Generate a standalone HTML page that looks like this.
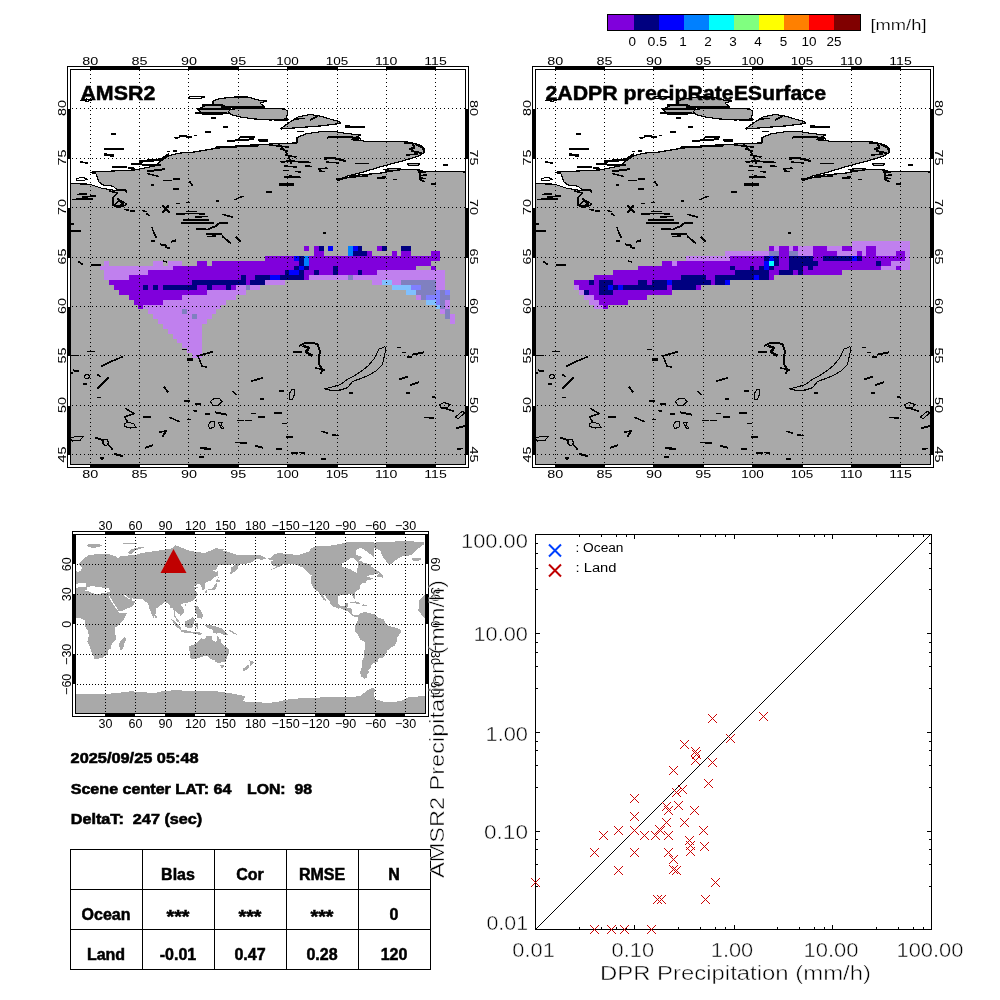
<!DOCTYPE html><html><head><meta charset="utf-8"><style>html,body{margin:0;padding:0;background:#fff;width:1000px;height:1000px;overflow:hidden}svg{display:block;will-change:transform}text{font-family:"Liberation Sans", sans-serif}</style></head><body>
<svg width="1000" height="1000" viewBox="0 0 1000 1000">
<rect width="1000" height="1000" fill="#fff"/>
<clipPath id="clip0"><rect x="71" y="70" width="394" height="394"/></clipPath>
<g clip-path="url(#clip0)">
<rect x="71" y="70" width="394" height="394" fill="#fff"/>
<g shape-rendering="crispEdges">
<polygon points="60,183.6 70,183.6 89.5,184.2 101.2,188.1 112.9,190.1 124.6,190.1 126.6,192 125.9,190.1 116.8,189.4 112.9,186.2 102.5,184.9 98.6,181.6 96,173.8 90.8,172.5 90.8,172.2 109,171.2 135,169.9 154.5,166 161,160.8 168.8,155.6 180.5,153 193,152.2 212.5,148.9 232,146.3 251.5,145 277.5,143.7 296.9,142.9 296.9,137.7 306,133.8 319,131.9 332,131.2 345,133.2 355.4,134.5 360.6,135.1 352.8,139 360.6,140.3 365.8,141.6 380,141.3 402.5,141.3 411.5,142.6 420.5,145.3 424.6,148.9 424.1,152.5 418.7,156.1 407,159.7 393.5,163.3 380,166.9 363.7,171.9 347.5,176 338,180.6 354.1,175.4 380,173.2 389,171.4 402.5,169.6 417.8,169.6 421,170.5 426,171.8 434,171.9 454.7,171.4 470,172.3 470,470 60,470" fill="#a9a9a9" stroke="#000" stroke-width="1.2" stroke-linejoin="round"/>
<polygon points="213,101 220,98.5 235,97 248,97 258,100 267,101 260,103 264,106.5 250,107 235,106.5 222,106.5 213,104" fill="#a9a9a9" stroke="#000" stroke-width="1.2" stroke-linejoin="round"/>
<polygon points="228,110 240,108 268,108.5 285,109 288,112 286,119 270,120 255,119 240,117 232,115 228,112" fill="#a9a9a9" stroke="#000" stroke-width="1.2" stroke-linejoin="round"/>
<polygon points="198,109 206,105.5 222,105 230,108.5 228,113.5 215,114.5 201,113" fill="#a9a9a9" stroke="#000" stroke-width="1.2" stroke-linejoin="round"/>
<polygon points="281,128.5 290,122 298,117 310,114.5 320,116 330,119 339,121.5 341,123 336,124 320,126 300,127.5 281,129" fill="#a9a9a9" stroke="#000" stroke-width="1.2" stroke-linejoin="round"/>
<polygon points="407,164 413,163.3 419.5,163.7 418,165.3 410,165.8" fill="#a9a9a9" stroke="#000" stroke-width="1.2" stroke-linejoin="round"/>
<polygon points="384,169.5 392,168.6 400,168.6 397,170.2 387,171" fill="#a9a9a9" stroke="#000" stroke-width="1.2" stroke-linejoin="round"/>
</g>
<g shape-rendering="crispEdges">
<rect x="304" y="246" width="5" height="5" fill="#8000dc"/>
<rect x="314" y="246" width="5" height="5" fill="#8000dc"/>
<rect x="319" y="246" width="5" height="5" fill="#000080"/>
<rect x="328" y="246" width="5" height="5" fill="#0000ff"/>
<rect x="348" y="246" width="5" height="5" fill="#0080ff"/>
<rect x="353" y="246" width="5" height="5" fill="#0000ff"/>
<rect x="358" y="246" width="4" height="5" fill="#000080"/>
<rect x="377" y="246" width="5" height="5" fill="#8000dc"/>
<rect x="382" y="246" width="5" height="5" fill="#000080"/>
<rect x="401" y="246" width="10" height="5" fill="#000080"/>
<rect x="314" y="251" width="10" height="5" fill="#8000dc"/>
<rect x="348" y="251" width="5" height="5" fill="#0080ff"/>
<rect x="353" y="251" width="14" height="5" fill="#000080"/>
<rect x="367" y="251" width="5" height="5" fill="#8000dc"/>
<rect x="392" y="251" width="5" height="5" fill="#8000dc"/>
<rect x="401" y="251" width="10" height="5" fill="#8000dc"/>
<rect x="431" y="251" width="9" height="5" fill="#8000dc"/>
<rect x="265" y="256" width="29" height="5" fill="#8000dc"/>
<rect x="294" y="256" width="5" height="5" fill="#0000ff"/>
<rect x="299" y="256" width="5" height="5" fill="#000080"/>
<rect x="304" y="256" width="5" height="5" fill="#0080ff"/>
<rect x="309" y="256" width="131" height="5" fill="#8000dc"/>
<rect x="104" y="261" width="5" height="5" fill="#c080ee"/>
<rect x="153" y="261" width="10" height="5" fill="#c080ee"/>
<rect x="168" y="261" width="14" height="5" fill="#c080ee"/>
<rect x="197" y="261" width="10" height="5" fill="#8000dc"/>
<rect x="212" y="261" width="87" height="5" fill="#8000dc"/>
<rect x="299" y="261" width="5" height="5" fill="#000080"/>
<rect x="304" y="261" width="5" height="5" fill="#0080ff"/>
<rect x="309" y="261" width="122" height="5" fill="#8000dc"/>
<rect x="100" y="266" width="73" height="4" fill="#c080ee"/>
<rect x="173" y="266" width="121" height="4" fill="#8000dc"/>
<rect x="294" y="266" width="5" height="4" fill="#000080"/>
<rect x="299" y="266" width="5" height="4" fill="#0000ff"/>
<rect x="304" y="266" width="5" height="4" fill="#000080"/>
<rect x="309" y="266" width="24" height="4" fill="#8000dc"/>
<rect x="333" y="266" width="5" height="4" fill="#000080"/>
<rect x="338" y="266" width="78" height="4" fill="#8000dc"/>
<rect x="431" y="266" width="5" height="4" fill="#8000dc"/>
<rect x="104" y="270" width="44" height="5" fill="#c080ee"/>
<rect x="148" y="270" width="137" height="5" fill="#8000dc"/>
<rect x="285" y="270" width="4" height="5" fill="#000080"/>
<rect x="289" y="270" width="10" height="5" fill="#0000ff"/>
<rect x="299" y="270" width="5" height="5" fill="#000080"/>
<rect x="304" y="270" width="10" height="5" fill="#8000dc"/>
<rect x="314" y="270" width="5" height="5" fill="#000080"/>
<rect x="319" y="270" width="14" height="5" fill="#8000dc"/>
<rect x="333" y="270" width="5" height="5" fill="#000080"/>
<rect x="338" y="270" width="20" height="5" fill="#8000dc"/>
<rect x="358" y="270" width="4" height="5" fill="#000080"/>
<rect x="362" y="270" width="15" height="5" fill="#8000dc"/>
<rect x="377" y="270" width="68" height="5" fill="#c080ee"/>
<rect x="104" y="275" width="25" height="5" fill="#c080ee"/>
<rect x="129" y="275" width="112" height="5" fill="#8000dc"/>
<rect x="241" y="275" width="5" height="5" fill="#000080"/>
<rect x="246" y="275" width="9" height="5" fill="#8000dc"/>
<rect x="255" y="275" width="15" height="5" fill="#000080"/>
<rect x="270" y="275" width="10" height="5" fill="#0000ff"/>
<rect x="280" y="275" width="24" height="5" fill="#000080"/>
<rect x="304" y="275" width="5" height="5" fill="#8000dc"/>
<rect x="309" y="275" width="39" height="5" fill="#c080ee"/>
<rect x="348" y="275" width="5" height="5" fill="#8080c0"/>
<rect x="353" y="275" width="92" height="5" fill="#c080ee"/>
<rect x="109" y="280" width="83" height="5" fill="#8000dc"/>
<rect x="192" y="280" width="54" height="5" fill="#000080"/>
<rect x="246" y="280" width="4" height="5" fill="#8000dc"/>
<rect x="250" y="280" width="15" height="5" fill="#000080"/>
<rect x="265" y="280" width="20" height="5" fill="#c080ee"/>
<rect x="372" y="280" width="10" height="5" fill="#c080ee"/>
<rect x="382" y="280" width="10" height="5" fill="#80c0ff"/>
<rect x="392" y="280" width="9" height="5" fill="#c080ee"/>
<rect x="401" y="280" width="35" height="5" fill="#8080c0"/>
<rect x="436" y="280" width="9" height="5" fill="#c080ee"/>
<rect x="114" y="285" width="29" height="5" fill="#8000dc"/>
<rect x="143" y="285" width="5" height="5" fill="#000080"/>
<rect x="148" y="285" width="5" height="5" fill="#8000dc"/>
<rect x="153" y="285" width="5" height="5" fill="#000080"/>
<rect x="158" y="285" width="5" height="5" fill="#8000dc"/>
<rect x="163" y="285" width="34" height="5" fill="#000080"/>
<rect x="197" y="285" width="10" height="5" fill="#8000dc"/>
<rect x="207" y="285" width="5" height="5" fill="#000080"/>
<rect x="212" y="285" width="14" height="5" fill="#8000dc"/>
<rect x="226" y="285" width="5" height="5" fill="#000080"/>
<rect x="231" y="285" width="5" height="5" fill="#8000dc"/>
<rect x="236" y="285" width="10" height="5" fill="#c080ee"/>
<rect x="246" y="285" width="4" height="5" fill="#8080c0"/>
<rect x="250" y="285" width="10" height="5" fill="#c080ee"/>
<rect x="392" y="285" width="19" height="5" fill="#80c0ff"/>
<rect x="411" y="285" width="10" height="5" fill="#8080ff"/>
<rect x="421" y="285" width="15" height="5" fill="#8080c0"/>
<rect x="436" y="285" width="9" height="5" fill="#c080ee"/>
<rect x="119" y="290" width="88" height="5" fill="#8000dc"/>
<rect x="207" y="290" width="39" height="5" fill="#c080ee"/>
<rect x="406" y="290" width="10" height="5" fill="#80c0ff"/>
<rect x="416" y="290" width="20" height="5" fill="#8080c0"/>
<rect x="436" y="290" width="4" height="5" fill="#8080ff"/>
<rect x="440" y="290" width="5" height="5" fill="#8080c0"/>
<rect x="445" y="290" width="5" height="5" fill="#8080ff"/>
<rect x="129" y="295" width="53" height="5" fill="#8000dc"/>
<rect x="182" y="295" width="54" height="5" fill="#c080ee"/>
<rect x="416" y="295" width="5" height="5" fill="#c080ee"/>
<rect x="421" y="295" width="5" height="5" fill="#8080c0"/>
<rect x="426" y="295" width="14" height="5" fill="#8080ff"/>
<rect x="440" y="295" width="10" height="5" fill="#8080c0"/>
<rect x="134" y="300" width="29" height="5" fill="#8000dc"/>
<rect x="163" y="300" width="63" height="5" fill="#c080ee"/>
<rect x="426" y="300" width="10" height="5" fill="#80c0ff"/>
<rect x="436" y="300" width="4" height="5" fill="#8080ff"/>
<rect x="440" y="300" width="5" height="5" fill="#8080c0"/>
<rect x="445" y="300" width="5" height="5" fill="#c080ee"/>
<rect x="138" y="305" width="5" height="4" fill="#8000dc"/>
<rect x="143" y="305" width="78" height="4" fill="#c080ee"/>
<rect x="436" y="305" width="4" height="4" fill="#80c0ff"/>
<rect x="440" y="305" width="5" height="4" fill="#8080c0"/>
<rect x="445" y="305" width="5" height="4" fill="#c080ee"/>
<rect x="148" y="309" width="34" height="5" fill="#c080ee"/>
<rect x="182" y="309" width="5" height="5" fill="#8080c0"/>
<rect x="187" y="309" width="29" height="5" fill="#c080ee"/>
<rect x="440" y="309" width="5" height="5" fill="#c080ee"/>
<rect x="445" y="309" width="5" height="5" fill="#8080c0"/>
<rect x="153" y="314" width="39" height="5" fill="#c080ee"/>
<rect x="192" y="314" width="5" height="5" fill="#8080c0"/>
<rect x="197" y="314" width="15" height="5" fill="#c080ee"/>
<rect x="445" y="314" width="5" height="5" fill="#8080c0"/>
<rect x="450" y="314" width="5" height="5" fill="#c080ee"/>
<rect x="158" y="319" width="49" height="5" fill="#c080ee"/>
<rect x="450" y="319" width="5" height="5" fill="#c080ee"/>
<rect x="163" y="324" width="39" height="5" fill="#c080ee"/>
<rect x="168" y="329" width="34" height="5" fill="#c080ee"/>
<rect x="173" y="334" width="29" height="5" fill="#c080ee"/>
<rect x="177" y="339" width="25" height="4" fill="#c080ee"/>
<rect x="182" y="343" width="20" height="5" fill="#c080ee"/>
<rect x="187" y="348" width="15" height="5" fill="#c080ee"/>
<rect x="192" y="353" width="10" height="5" fill="#c080ee"/>
</g>
<g shape-rendering="crispEdges">
<polygon points="188,97.2 196,96.4 204.5,97 200,98.4 190,98.4" fill="none" stroke="#000" stroke-width="1.1" stroke-linejoin="round"/>
<polygon points="324.8,388.8 332,387 340.4,384.6 347.6,379.2 354.8,375.6 362,370.8 368,366 374,358.8 378.8,349.2 384.8,346.8 386,348 384.8,354 382.4,364.8 376.4,370.8 368,375.6 362,378 352.4,381.6 347.6,387.6 340.4,390 332,390.6" fill="none" stroke="#000" stroke-width="1.1" stroke-linejoin="round"/>
<polygon points="76.5,179 80,177.7 85,178 87,179.5 83,180.5 77,180.3" fill="none" stroke="#000" stroke-width="1.1" stroke-linejoin="round"/>
<polygon points="289.5,393 292,389.5 295,390 293.5,398.5 290,400" fill="none" stroke="#000" stroke-width="1.1" stroke-linejoin="round"/>
<polygon points="455.5,417 462,411.5 465,412.5 458,419" fill="none" stroke="#000" stroke-width="1.1" stroke-linejoin="round"/>
<polygon points="210.5,401.5 214,398.5 219.5,398.4 222,401.5 218,405.5 212.5,405" fill="none" stroke="#000" stroke-width="1.1" stroke-linejoin="round"/>
<polygon points="80.5,100.5 86,99 93,99.5 88,101.2" fill="none" stroke="#000" stroke-width="1.1" stroke-linejoin="round"/>
<polygon points="84,376 87,374 90,376 88,379 85,378" fill="none" stroke="#000" stroke-width="1.1" stroke-linejoin="round"/>
<polygon points="70,438 76,436.5 83,436.5 80,440.5 72,441" fill="none" stroke="#000" stroke-width="1.1" stroke-linejoin="round"/>
<polygon points="103,440 107,439.5 109,443 106,446 103,444" fill="none" stroke="#000" stroke-width="1.1" stroke-linejoin="round"/>
<polygon points="100,458 102,457 104,458 102,459.3" fill="none" stroke="#000" stroke-width="1.1" stroke-linejoin="round"/>
<polygon points="208,425 211,421.5 215,422 214,427 210,428.5" fill="none" stroke="#000" stroke-width="1.1" stroke-linejoin="round"/>
<polygon points="218,422 222,422.5 221,425 224,428 222,429" fill="none" stroke="#000" stroke-width="1.1" stroke-linejoin="round"/>
<polygon points="124,424 128,422 134,424 136,427.5 130,428 125,426.5" fill="none" stroke="#000" stroke-width="1.1" stroke-linejoin="round"/>
<polygon points="439.5,405 444,402.5 450,404.5 447,408 441,408" fill="none" stroke="#000" stroke-width="1.1" stroke-linejoin="round"/>
<polygon points="114.5,204.5 120,200 127,204 122,207" fill="none" stroke="#000" stroke-width="1.1" stroke-linejoin="round"/>
<polyline points="203,105 222,105" fill="none" stroke="#000" stroke-width="2" stroke-linejoin="round" stroke-linecap="square"/>
<polyline points="198,109.2 230,109.2" fill="none" stroke="#000" stroke-width="2.2" stroke-linejoin="round" stroke-linecap="square"/>
<polyline points="196,112.5 226,112.5" fill="none" stroke="#000" stroke-width="2" stroke-linejoin="round" stroke-linecap="square"/>
<polyline points="203,114.7 217,114.7" fill="none" stroke="#000" stroke-width="1.4" stroke-linejoin="round" stroke-linecap="square"/>
<polyline points="222,106.6 264,106.6" fill="none" stroke="#000" stroke-width="1.8" stroke-linejoin="round" stroke-linecap="square"/>
<polyline points="240,108.2 268,108.5" fill="none" stroke="#000" stroke-width="1.5" stroke-linejoin="round" stroke-linecap="square"/>
<polyline points="211.5,118 215.5,118" fill="none" stroke="#000" stroke-width="1.3" stroke-linejoin="round" stroke-linecap="square"/>
<polyline points="224,127 227,127" fill="none" stroke="#000" stroke-width="1.6" stroke-linejoin="round" stroke-linecap="square"/>
<polyline points="295,119 304,118.5" fill="none" stroke="#000" stroke-width="1.5" stroke-linejoin="round" stroke-linecap="square"/>
<polyline points="311,119.5 317,116.5" fill="none" stroke="#000" stroke-width="1.8" stroke-linejoin="round" stroke-linecap="square"/>
<polyline points="111.6,133.7 115.5,133.7" fill="none" stroke="#000" stroke-width="1.6" stroke-linejoin="round" stroke-linecap="square"/>
<polyline points="105,149 122.7,149" fill="none" stroke="#000" stroke-width="1.8" stroke-linejoin="round" stroke-linecap="square"/>
<polyline points="105,154.5 112.5,155.5" fill="none" stroke="#000" stroke-width="2.6" stroke-linejoin="round" stroke-linecap="square"/>
<polyline points="175.3,138 179.2,137.5" fill="none" stroke="#000" stroke-width="1.6" stroke-linejoin="round" stroke-linecap="square"/>
<polyline points="180.5,136 185.7,135.8" fill="none" stroke="#000" stroke-width="1.8" stroke-linejoin="round" stroke-linecap="square"/>
<polyline points="187,137 191,137" fill="none" stroke="#000" stroke-width="1.4" stroke-linejoin="round" stroke-linecap="square"/>
<polyline points="195,135.3 196.8,135.3" fill="none" stroke="#000" stroke-width="1.3" stroke-linejoin="round" stroke-linecap="square"/>
<polyline points="167.5,151.6 168.8,151.6" fill="none" stroke="#000" stroke-width="1.4" stroke-linejoin="round" stroke-linecap="square"/>
<polyline points="174,150.9 176,150.9" fill="none" stroke="#000" stroke-width="1.4" stroke-linejoin="round" stroke-linecap="square"/>
<polyline points="81,162 87,163" fill="none" stroke="#000" stroke-width="1.6" stroke-linejoin="round" stroke-linecap="square"/>
<polyline points="113,167 126,167.3" fill="none" stroke="#000" stroke-width="1.8" stroke-linejoin="round" stroke-linecap="square"/>
<polyline points="128.5,168 133.7,167.8" fill="none" stroke="#000" stroke-width="1.6" stroke-linejoin="round" stroke-linecap="square"/>
<polyline points="206,132 210,132" fill="none" stroke="#000" stroke-width="1.4" stroke-linejoin="round" stroke-linecap="square"/>
<polyline points="180,136 185,136.5" fill="none" stroke="#000" stroke-width="1.5" stroke-linejoin="round" stroke-linecap="square"/>
<polyline points="298,131.5 303,131.5" fill="none" stroke="#000" stroke-width="1.4" stroke-linejoin="round" stroke-linecap="square"/>
<polyline points="346,126.5 364,127" fill="none" stroke="#000" stroke-width="2.2" stroke-linejoin="round" stroke-linecap="square"/>
<polyline points="228,141 252.8,139.2" fill="none" stroke="#000" stroke-width="2" stroke-linejoin="round" stroke-linecap="square"/>
<polyline points="240,137.5 254,137" fill="none" stroke="#000" stroke-width="2" stroke-linejoin="round" stroke-linecap="square"/>
<polyline points="259,140.3 267,140.5" fill="none" stroke="#000" stroke-width="2.4" stroke-linejoin="round" stroke-linecap="square"/>
<polyline points="216,147.5 258,145.5" fill="none" stroke="#000" stroke-width="2" stroke-linejoin="round" stroke-linecap="square"/>
<polyline points="328,137.5 345,136.5 360,138.5" fill="none" stroke="#000" stroke-width="2" stroke-linejoin="round" stroke-linecap="square"/>
<polyline points="352,139.5 360,140.5" fill="none" stroke="#000" stroke-width="1.8" stroke-linejoin="round" stroke-linecap="square"/>
<polyline points="140,161.5 161,159.5 168,155" fill="none" stroke="#000" stroke-width="2.6" stroke-linejoin="round" stroke-linecap="square"/>
<polyline points="132.4,164 159.7,165.4" fill="none" stroke="#000" stroke-width="2" stroke-linejoin="round" stroke-linecap="square"/>
<polyline points="148,171.2 163.6,169.3" fill="none" stroke="#000" stroke-width="2" stroke-linejoin="round" stroke-linecap="square"/>
<polyline points="148,173.8 158.4,176.4" fill="none" stroke="#000" stroke-width="1.5" stroke-linejoin="round" stroke-linecap="square"/>
<polyline points="110,191 117,193 113,198 113,205 118,207.5" fill="none" stroke="#000" stroke-width="1.6" stroke-linejoin="round" stroke-linecap="square"/>
<polyline points="118,199 123,204 119,207" fill="none" stroke="#000" stroke-width="2.4" stroke-linejoin="round" stroke-linecap="square"/>
<polyline points="78,194.5 86,194" fill="none" stroke="#000" stroke-width="1.8" stroke-linejoin="round" stroke-linecap="square"/>
<polyline points="83,197 95,196" fill="none" stroke="#000" stroke-width="1.8" stroke-linejoin="round" stroke-linecap="square"/>
<polyline points="73,199.5 92,199" fill="none" stroke="#000" stroke-width="1.8" stroke-linejoin="round" stroke-linecap="square"/>
<polyline points="174,179 179,179" fill="none" stroke="#000" stroke-width="1.4" stroke-linejoin="round" stroke-linecap="square"/>
<polyline points="190,182 192,185" fill="none" stroke="#000" stroke-width="1.4" stroke-linejoin="round" stroke-linecap="square"/>
<polyline points="174,189 178,189" fill="none" stroke="#000" stroke-width="2" stroke-linejoin="round" stroke-linecap="square"/>
<polyline points="151.3,185 153.2,185" fill="none" stroke="#000" stroke-width="1.3" stroke-linejoin="round" stroke-linecap="square"/>
<polyline points="163.6,180.3 171.4,180.3" fill="none" stroke="#000" stroke-width="1.2" stroke-linejoin="round" stroke-linecap="square"/>
<polyline points="178,203.7 179,203.7" fill="none" stroke="#000" stroke-width="1.5" stroke-linejoin="round" stroke-linecap="square"/>
<polyline points="187,202.4 189.6,202.4" fill="none" stroke="#000" stroke-width="1.5" stroke-linejoin="round" stroke-linecap="square"/>
<polyline points="163,206 169,212" fill="none" stroke="#000" stroke-width="2" stroke-linejoin="round" stroke-linecap="square"/>
<polyline points="168,206 163,212" fill="none" stroke="#000" stroke-width="2" stroke-linejoin="round" stroke-linecap="square"/>
<polyline points="124.6,209.5 128,210" fill="none" stroke="#000" stroke-width="1.6" stroke-linejoin="round" stroke-linecap="square"/>
<polyline points="131,211 133.7,211" fill="none" stroke="#000" stroke-width="1.6" stroke-linejoin="round" stroke-linecap="square"/>
<polyline points="142.8,210.5 146,211.5" fill="none" stroke="#000" stroke-width="1.6" stroke-linejoin="round" stroke-linecap="square"/>
<polyline points="147,214 149.3,215.4" fill="none" stroke="#000" stroke-width="1.6" stroke-linejoin="round" stroke-linecap="square"/>
<polyline points="70,230.8 80.4,230.8" fill="none" stroke="#000" stroke-width="1.6" stroke-linejoin="round" stroke-linecap="square"/>
<polyline points="70,224 72.6,224" fill="none" stroke="#000" stroke-width="2" stroke-linejoin="round" stroke-linecap="square"/>
<polyline points="152,227.5 153.5,232 156,237" fill="none" stroke="#000" stroke-width="1.5" stroke-linejoin="round" stroke-linecap="square"/>
<polyline points="152,240.7 154.5,240.7" fill="none" stroke="#000" stroke-width="1.8" stroke-linejoin="round" stroke-linecap="square"/>
<polyline points="161,244.5 166,245.5" fill="none" stroke="#000" stroke-width="1.8" stroke-linejoin="round" stroke-linecap="square"/>
<polyline points="166,247.5 168.8,248" fill="none" stroke="#000" stroke-width="1.8" stroke-linejoin="round" stroke-linecap="square"/>
<polyline points="172,241.5 175.3,240.5" fill="none" stroke="#000" stroke-width="1.8" stroke-linejoin="round" stroke-linecap="square"/>
<polyline points="79,262 82,264" fill="none" stroke="#000" stroke-width="1.6" stroke-linejoin="round" stroke-linecap="square"/>
<polyline points="92,265.3 100,265.3" fill="none" stroke="#000" stroke-width="1.8" stroke-linejoin="round" stroke-linecap="square"/>
<polyline points="163.6,261 166.2,262" fill="none" stroke="#000" stroke-width="1.4" stroke-linejoin="round" stroke-linecap="square"/>
<polyline points="279,145 284.5,150 288.5,156 291,163" fill="none" stroke="#000" stroke-width="1.5" stroke-linejoin="round" stroke-linecap="square"/>
<polyline points="281.4,162 290,161 310,162.5" fill="none" stroke="#000" stroke-width="1.8" stroke-linejoin="round" stroke-linecap="square"/>
<polyline points="285,166 296,167" fill="none" stroke="#000" stroke-width="1.6" stroke-linejoin="round" stroke-linecap="square"/>
<polyline points="270,145 288,147" fill="none" stroke="#000" stroke-width="1.6" stroke-linejoin="round" stroke-linecap="square"/>
<polyline points="281,149 287,151" fill="none" stroke="#000" stroke-width="1.6" stroke-linejoin="round" stroke-linecap="square"/>
<polyline points="286,155 295.6,157" fill="none" stroke="#000" stroke-width="1.6" stroke-linejoin="round" stroke-linecap="square"/>
<polyline points="325.5,158.5 334,158 345,161" fill="none" stroke="#000" stroke-width="2.2" stroke-linejoin="round" stroke-linecap="square"/>
<polyline points="327,162.2 338,162.8" fill="none" stroke="#000" stroke-width="1.6" stroke-linejoin="round" stroke-linecap="square"/>
<polyline points="355.4,163.5 368.4,163.7" fill="none" stroke="#000" stroke-width="1.6" stroke-linejoin="round" stroke-linecap="square"/>
<polyline points="319,169 326.8,168" fill="none" stroke="#000" stroke-width="1.5" stroke-linejoin="round" stroke-linecap="square"/>
<polyline points="306,166 311.2,166.5" fill="none" stroke="#000" stroke-width="1.8" stroke-linejoin="round" stroke-linecap="square"/>
<polyline points="284,170.2 288,170.2" fill="none" stroke="#000" stroke-width="1.4" stroke-linejoin="round" stroke-linecap="square"/>
<polyline points="285.2,176.7 299.5,176.7" fill="none" stroke="#000" stroke-width="1.6" stroke-linejoin="round" stroke-linecap="square"/>
<polyline points="280,184.5 293,184.5" fill="none" stroke="#000" stroke-width="2.2" stroke-linejoin="round" stroke-linecap="square"/>
<polyline points="267,192 271,192" fill="none" stroke="#000" stroke-width="1.5" stroke-linejoin="round" stroke-linecap="square"/>
<polyline points="290,176 300,177.5" fill="none" stroke="#000" stroke-width="1.6" stroke-linejoin="round" stroke-linecap="square"/>
<polyline points="296,171.5 300,172" fill="none" stroke="#000" stroke-width="1.6" stroke-linejoin="round" stroke-linecap="square"/>
<polyline points="320,171 324,171.5" fill="none" stroke="#000" stroke-width="1.6" stroke-linejoin="round" stroke-linecap="square"/>
<polyline points="377.5,178 384,178" fill="none" stroke="#000" stroke-width="1.6" stroke-linejoin="round" stroke-linecap="square"/>
<polyline points="394.4,179.3 395.5,179.3" fill="none" stroke="#000" stroke-width="1.5" stroke-linejoin="round" stroke-linecap="square"/>
<polyline points="380,177.5 382,177.5" fill="none" stroke="#000" stroke-width="2" stroke-linejoin="round" stroke-linecap="square"/>
<polyline points="393.5,179.7 395.3,179.7" fill="none" stroke="#000" stroke-width="1.5" stroke-linejoin="round" stroke-linecap="square"/>
<polyline points="405,142.5 413,143.5 414,148 410,149" fill="none" stroke="#000" stroke-width="2.2" stroke-linejoin="round" stroke-linecap="square"/>
<polyline points="416,144.5 423,148 424,151" fill="none" stroke="#000" stroke-width="2.2" stroke-linejoin="round" stroke-linecap="square"/>
<polyline points="412,151 421,153" fill="none" stroke="#000" stroke-width="2" stroke-linejoin="round" stroke-linecap="square"/>
<polyline points="407,155 417,154" fill="none" stroke="#000" stroke-width="1.6" stroke-linejoin="round" stroke-linecap="square"/>
<polyline points="444,165 447.5,165" fill="none" stroke="#000" stroke-width="1.6" stroke-linejoin="round" stroke-linecap="square"/>
<polyline points="432.2,184 435,184" fill="none" stroke="#000" stroke-width="1.5" stroke-linejoin="round" stroke-linecap="square"/>
<polyline points="417,169.5 420,173 419.5,179 424,181.5" fill="none" stroke="#000" stroke-width="1.8" stroke-linejoin="round" stroke-linecap="square"/>
<polyline points="421,175.5 426,175" fill="none" stroke="#000" stroke-width="1.6" stroke-linejoin="round" stroke-linecap="square"/>
<polyline points="420,172 425,172.5" fill="none" stroke="#000" stroke-width="1.5" stroke-linejoin="round" stroke-linecap="square"/>
<polyline points="421,178 425,178.5" fill="none" stroke="#000" stroke-width="1.6" stroke-linejoin="round" stroke-linecap="square"/>
<polyline points="324,233 325,233" fill="none" stroke="#000" stroke-width="1.8" stroke-linejoin="round" stroke-linecap="square"/>
<polyline points="337,179 352,177 367,176" fill="none" stroke="#000" stroke-width="1.6" stroke-linejoin="round" stroke-linecap="square"/>
<polyline points="379,177.5 385,177" fill="none" stroke="#000" stroke-width="1.5" stroke-linejoin="round" stroke-linecap="square"/>
<polyline points="394,179.5 396,179.5" fill="none" stroke="#000" stroke-width="1.6" stroke-linejoin="round" stroke-linecap="square"/>
<polyline points="176.5,214 190,213.5 203.8,213.8" fill="none" stroke="#000" stroke-width="1.6" stroke-linejoin="round" stroke-linecap="square"/>
<polyline points="187,211.5 196,211.5" fill="none" stroke="#000" stroke-width="1.4" stroke-linejoin="round" stroke-linecap="square"/>
<polyline points="184.3,219.7 207.7,219.7" fill="none" stroke="#000" stroke-width="2" stroke-linejoin="round" stroke-linecap="square"/>
<polyline points="196,217 207.7,216.5" fill="none" stroke="#000" stroke-width="1.5" stroke-linejoin="round" stroke-linecap="square"/>
<polyline points="181.7,223.3 212.9,222.8" fill="none" stroke="#000" stroke-width="2" stroke-linejoin="round" stroke-linecap="square"/>
<polyline points="197.3,228.8 207.7,229.5 215.5,226.2 219.4,223 226.6,223" fill="none" stroke="#000" stroke-width="1.8" stroke-linejoin="round" stroke-linecap="square"/>
<polyline points="206.4,234 220.7,234" fill="none" stroke="#000" stroke-width="1.8" stroke-linejoin="round" stroke-linecap="square"/>
<polyline points="207.7,236.6 215.5,236" fill="none" stroke="#000" stroke-width="1.6" stroke-linejoin="round" stroke-linecap="square"/>
<polyline points="223.3,214.5 232.4,217.1" fill="none" stroke="#000" stroke-width="1.6" stroke-linejoin="round" stroke-linecap="square"/>
<polyline points="222.7,236.6 230.5,243.1" fill="none" stroke="#000" stroke-width="1.8" stroke-linejoin="round" stroke-linecap="square"/>
<polyline points="236.3,237.3 240.2,241.2" fill="none" stroke="#000" stroke-width="1.8" stroke-linejoin="round" stroke-linecap="square"/>
<polyline points="172.6,240.8 175.2,241" fill="none" stroke="#000" stroke-width="2" stroke-linejoin="round" stroke-linecap="square"/>
<polyline points="177.2,203.5 178,203.5" fill="none" stroke="#000" stroke-width="1.6" stroke-linejoin="round" stroke-linecap="square"/>
<polyline points="188.9,202.2 189.5,202.5" fill="none" stroke="#000" stroke-width="1.5" stroke-linejoin="round" stroke-linecap="square"/>
<polyline points="216.8,200.9 218.5,200.9" fill="none" stroke="#000" stroke-width="1.4" stroke-linejoin="round" stroke-linecap="square"/>
<polyline points="235,199.6 242.8,196.3" fill="none" stroke="#000" stroke-width="1.5" stroke-linejoin="round" stroke-linecap="square"/>
<polyline points="299.6,345.6 304.4,343.2 312.8,342.6 317.6,344.4 320,351.6 318.8,357.6 318.8,363.6 322.4,369.6 321.2,373.2" fill="none" stroke="#000" stroke-width="1.8" stroke-linejoin="round" stroke-linecap="square"/>
<polyline points="304,346 309,348 306,352 311,355" fill="none" stroke="#000" stroke-width="2.6" stroke-linejoin="round" stroke-linecap="square"/>
<polyline points="294.2,352.2 301.4,352.2" fill="none" stroke="#000" stroke-width="1.6" stroke-linejoin="round" stroke-linecap="square"/>
<polyline points="316,368 324,370" fill="none" stroke="#000" stroke-width="1.5" stroke-linejoin="round" stroke-linecap="square"/>
<polyline points="280,391 283,391" fill="none" stroke="#000" stroke-width="1.4" stroke-linejoin="round" stroke-linecap="square"/>
<polyline points="275,413 281,413" fill="none" stroke="#000" stroke-width="1.6" stroke-linejoin="round" stroke-linecap="square"/>
<polyline points="283,423.5 286,423.5" fill="none" stroke="#000" stroke-width="1.4" stroke-linejoin="round" stroke-linecap="square"/>
<polyline points="287,437 292,437" fill="none" stroke="#000" stroke-width="1.8" stroke-linejoin="round" stroke-linecap="square"/>
<polyline points="277,449 281,449" fill="none" stroke="#000" stroke-width="1.8" stroke-linejoin="round" stroke-linecap="square"/>
<polyline points="292,453 297,453" fill="none" stroke="#000" stroke-width="1.8" stroke-linejoin="round" stroke-linecap="square"/>
<polyline points="300,452.5 304,453" fill="none" stroke="#000" stroke-width="1.8" stroke-linejoin="round" stroke-linecap="square"/>
<polyline points="322,431.5 327,433" fill="none" stroke="#000" stroke-width="1.6" stroke-linejoin="round" stroke-linecap="square"/>
<polyline points="333,435 338,435.5" fill="none" stroke="#000" stroke-width="1.6" stroke-linejoin="round" stroke-linecap="square"/>
<polyline points="322,459 325,459" fill="none" stroke="#000" stroke-width="1.6" stroke-linejoin="round" stroke-linecap="square"/>
<polyline points="349.5,393 351.5,393" fill="none" stroke="#000" stroke-width="2" stroke-linejoin="round" stroke-linecap="square"/>
<polyline points="398,347.5 400,347.5" fill="none" stroke="#000" stroke-width="1.4" stroke-linejoin="round" stroke-linecap="square"/>
<polyline points="403,352.5 405,352.5" fill="none" stroke="#000" stroke-width="1.5" stroke-linejoin="round" stroke-linecap="square"/>
<polyline points="408,357 411,357" fill="none" stroke="#000" stroke-width="1.5" stroke-linejoin="round" stroke-linecap="square"/>
<polyline points="413,354.5 423,352.5" fill="none" stroke="#000" stroke-width="1.8" stroke-linejoin="round" stroke-linecap="square"/>
<polyline points="400,379 407,377" fill="none" stroke="#000" stroke-width="2" stroke-linejoin="round" stroke-linecap="square"/>
<polyline points="411,385 418,382.5" fill="none" stroke="#000" stroke-width="1.8" stroke-linejoin="round" stroke-linecap="square"/>
<polyline points="407,393 409,393" fill="none" stroke="#000" stroke-width="1.5" stroke-linejoin="round" stroke-linecap="square"/>
<polyline points="433,397 435,397.5" fill="none" stroke="#000" stroke-width="1.8" stroke-linejoin="round" stroke-linecap="square"/>
<polyline points="447,409 453,411" fill="none" stroke="#000" stroke-width="1.5" stroke-linejoin="round" stroke-linecap="square"/>
<polyline points="425,417.5 433,418" fill="none" stroke="#000" stroke-width="1.5" stroke-linejoin="round" stroke-linecap="square"/>
<polyline points="457,428 465,426" fill="none" stroke="#000" stroke-width="2" stroke-linejoin="round" stroke-linecap="square"/>
<polyline points="458,449 462,448.5" fill="none" stroke="#000" stroke-width="1.8" stroke-linejoin="round" stroke-linecap="square"/>
<polyline points="88,351.5 94,351.5" fill="none" stroke="#000" stroke-width="1.8" stroke-linejoin="round" stroke-linecap="square"/>
<polyline points="70,355.5 78,355.5" fill="none" stroke="#000" stroke-width="1.8" stroke-linejoin="round" stroke-linecap="square"/>
<polyline points="102,366 110,362 122,357" fill="none" stroke="#000" stroke-width="1.6" stroke-linejoin="round" stroke-linecap="square"/>
<polyline points="74,370.5 78,371" fill="none" stroke="#000" stroke-width="2" stroke-linejoin="round" stroke-linecap="square"/>
<polyline points="98,375 100,376.5" fill="none" stroke="#000" stroke-width="1.6" stroke-linejoin="round" stroke-linecap="square"/>
<polyline points="98,388 103,383" fill="none" stroke="#000" stroke-width="1.6" stroke-linejoin="round" stroke-linecap="square"/>
<polyline points="103,383 108,378" fill="none" stroke="#000" stroke-width="1.8" stroke-linejoin="round" stroke-linecap="square"/>
<polyline points="84,384 86,384" fill="none" stroke="#000" stroke-width="1.5" stroke-linejoin="round" stroke-linecap="square"/>
<polyline points="98,397.5 100,397.5" fill="none" stroke="#000" stroke-width="1.5" stroke-linejoin="round" stroke-linecap="square"/>
<polyline points="70,373 72,373" fill="none" stroke="#000" stroke-width="1.4" stroke-linejoin="round" stroke-linecap="square"/>
<polyline points="198,356 205,354 212,352" fill="none" stroke="#000" stroke-width="1.8" stroke-linejoin="round" stroke-linecap="square"/>
<polyline points="198,356 202,366 206,367" fill="none" stroke="#000" stroke-width="1.6" stroke-linejoin="round" stroke-linecap="square"/>
<polyline points="188.5,359.5 191.5,359.5" fill="none" stroke="#000" stroke-width="2.2" stroke-linejoin="round" stroke-linecap="square"/>
<polyline points="183,349.5 186,349.5" fill="none" stroke="#000" stroke-width="1.4" stroke-linejoin="round" stroke-linecap="square"/>
<polyline points="164.5,387.5 167.5,391.5" fill="none" stroke="#000" stroke-width="1.8" stroke-linejoin="round" stroke-linecap="square"/>
<polyline points="185,401 189,401" fill="none" stroke="#000" stroke-width="1.6" stroke-linejoin="round" stroke-linecap="square"/>
<polyline points="196,404 200,404" fill="none" stroke="#000" stroke-width="1.6" stroke-linejoin="round" stroke-linecap="square"/>
<polyline points="193.5,410.5 196,411" fill="none" stroke="#000" stroke-width="1.6" stroke-linejoin="round" stroke-linecap="square"/>
<polyline points="206,414 209,414" fill="none" stroke="#000" stroke-width="1.6" stroke-linejoin="round" stroke-linecap="square"/>
<polyline points="216,412.5 226,414.5" fill="none" stroke="#000" stroke-width="2" stroke-linejoin="round" stroke-linecap="square"/>
<polyline points="126,408.8 134,413.6 124.4,416.8 127.6,422" fill="none" stroke="#000" stroke-width="1.5" stroke-linejoin="round" stroke-linecap="square"/>
<polyline points="144,417 150,417" fill="none" stroke="#000" stroke-width="2.2" stroke-linejoin="round" stroke-linecap="square"/>
<polyline points="170,417.5 179,421.5" fill="none" stroke="#000" stroke-width="1.6" stroke-linejoin="round" stroke-linecap="square"/>
<polyline points="188,419.5 190,419.5" fill="none" stroke="#000" stroke-width="1.5" stroke-linejoin="round" stroke-linecap="square"/>
<polyline points="160,432 166,431 163,436" fill="none" stroke="#000" stroke-width="1.8" stroke-linejoin="round" stroke-linecap="square"/>
<polyline points="96,438 103,440" fill="none" stroke="#000" stroke-width="1.8" stroke-linejoin="round" stroke-linecap="square"/>
<polyline points="108,444 112,449" fill="none" stroke="#000" stroke-width="1.5" stroke-linejoin="round" stroke-linecap="square"/>
<polyline points="115,454 122,456" fill="none" stroke="#000" stroke-width="2.2" stroke-linejoin="round" stroke-linecap="square"/>
<polyline points="146,447.5 152,445.5" fill="none" stroke="#000" stroke-width="1.8" stroke-linejoin="round" stroke-linecap="square"/>
<polyline points="201,448 210,449" fill="none" stroke="#000" stroke-width="2.4" stroke-linejoin="round" stroke-linecap="square"/>
<polyline points="200,457 203,457" fill="none" stroke="#000" stroke-width="1.6" stroke-linejoin="round" stroke-linecap="square"/>
<polyline points="236,442.5 246,443" fill="none" stroke="#000" stroke-width="1.6" stroke-linejoin="round" stroke-linecap="square"/>
<polyline points="256,446 262,447.5" fill="none" stroke="#000" stroke-width="1.8" stroke-linejoin="round" stroke-linecap="square"/>
<polyline points="252,381 262,378" fill="none" stroke="#000" stroke-width="1.8" stroke-linejoin="round" stroke-linecap="square"/>
<polyline points="233,391.5 236,394.5" fill="none" stroke="#000" stroke-width="1.5" stroke-linejoin="round" stroke-linecap="square"/>
<polyline points="261,399 263,399" fill="none" stroke="#000" stroke-width="1.5" stroke-linejoin="round" stroke-linecap="square"/>
<polyline points="252,413.5 255,413.5" fill="none" stroke="#000" stroke-width="1.5" stroke-linejoin="round" stroke-linecap="square"/>
<polyline points="259,417 264,417" fill="none" stroke="#000" stroke-width="2" stroke-linejoin="round" stroke-linecap="square"/>
<polyline points="238,420.5 243,420.5" fill="none" stroke="#000" stroke-width="1.3" stroke-linejoin="round" stroke-linecap="square"/>
<polyline points="246,420.5 251,420.5" fill="none" stroke="#000" stroke-width="1.3" stroke-linejoin="round" stroke-linecap="square"/>
<polygon points="272,119 290,118.6 288,121 276,121.5" fill="#000"/>
</g>
<g stroke="#000" stroke-width="1" stroke-dasharray="1 3" shape-rendering="crispEdges">
<line x1="90.5" y1="70" x2="90.5" y2="464"/>
<line x1="139.5" y1="70" x2="139.5" y2="464"/>
<line x1="188.5" y1="70" x2="188.5" y2="464"/>
<line x1="238.5" y1="70" x2="238.5" y2="464"/>
<line x1="287.5" y1="70" x2="287.5" y2="464"/>
<line x1="337.5" y1="70" x2="337.5" y2="464"/>
<line x1="386.5" y1="70" x2="386.5" y2="464"/>
<line x1="435.5" y1="70" x2="435.5" y2="464"/>
<line x1="72" y1="454.5" x2="465" y2="454.5"/>
<line x1="72" y1="405.5" x2="465" y2="405.5"/>
<line x1="72" y1="355.5" x2="465" y2="355.5"/>
<line x1="72" y1="306.5" x2="465" y2="306.5"/>
<line x1="72" y1="257.5" x2="465" y2="257.5"/>
<line x1="72" y1="207.5" x2="465" y2="207.5"/>
<line x1="72" y1="158.5" x2="465" y2="158.5"/>
<line x1="72" y1="108.5" x2="465" y2="108.5"/>
</g>
</g>
<g shape-rendering="crispEdges">
<rect x="67.5" y="66.5" width="401" height="401" fill="none" stroke="#000" stroke-width="1"/>
<rect x="70.5" y="69.5" width="395" height="395" fill="none" stroke="#000" stroke-width="1"/>
<rect x="90" y="67" width="50" height="2" fill="#000"/>
<rect x="90" y="465" width="50" height="2" fill="#000"/>
<rect x="188" y="67" width="51" height="2" fill="#000"/>
<rect x="188" y="465" width="51" height="2" fill="#000"/>
<rect x="287" y="67" width="51" height="2" fill="#000"/>
<rect x="287" y="465" width="51" height="2" fill="#000"/>
<rect x="386" y="67" width="50" height="2" fill="#000"/>
<rect x="386" y="465" width="50" height="2" fill="#000"/>
<rect x="68" y="109" width="2" height="50" fill="#000"/>
<rect x="466" y="109" width="2" height="50" fill="#000"/>
<rect x="68" y="208" width="2" height="50" fill="#000"/>
<rect x="466" y="208" width="2" height="50" fill="#000"/>
<rect x="68" y="307" width="2" height="49" fill="#000"/>
<rect x="466" y="307" width="2" height="49" fill="#000"/>
<rect x="68" y="406" width="2" height="49" fill="#000"/>
<rect x="466" y="406" width="2" height="49" fill="#000"/>
</g>
<g font-size="11.5" fill="#000" text-anchor="middle">
<text x="90.2" y="64.6" textLength="16" lengthAdjust="spacingAndGlyphs">80</text>
<text x="90.2" y="477.8" textLength="16" lengthAdjust="spacingAndGlyphs">80</text>
<text x="139.6" y="64.6" textLength="16" lengthAdjust="spacingAndGlyphs">85</text>
<text x="139.6" y="477.8" textLength="16" lengthAdjust="spacingAndGlyphs">85</text>
<text x="188.9" y="64.6" textLength="16" lengthAdjust="spacingAndGlyphs">90</text>
<text x="188.9" y="477.8" textLength="16" lengthAdjust="spacingAndGlyphs">90</text>
<text x="238.2" y="64.6" textLength="16" lengthAdjust="spacingAndGlyphs">95</text>
<text x="238.2" y="477.8" textLength="16" lengthAdjust="spacingAndGlyphs">95</text>
<text x="287.6" y="64.6" textLength="22.5" lengthAdjust="spacingAndGlyphs">100</text>
<text x="287.6" y="477.8" textLength="22.5" lengthAdjust="spacingAndGlyphs">100</text>
<text x="336.9" y="64.6" textLength="22.5" lengthAdjust="spacingAndGlyphs">105</text>
<text x="336.9" y="477.8" textLength="22.5" lengthAdjust="spacingAndGlyphs">105</text>
<text x="386.2" y="64.6" textLength="22.5" lengthAdjust="spacingAndGlyphs">110</text>
<text x="386.2" y="477.8" textLength="22.5" lengthAdjust="spacingAndGlyphs">110</text>
<text x="435.5" y="64.6" textLength="22.5" lengthAdjust="spacingAndGlyphs">115</text>
<text x="435.5" y="477.8" textLength="22.5" lengthAdjust="spacingAndGlyphs">115</text>
<text transform="translate(66,454.6) rotate(-90)" textLength="16" lengthAdjust="spacingAndGlyphs">45</text>
<text transform="translate(470,454.6) rotate(90)" textLength="16" lengthAdjust="spacingAndGlyphs">45</text>
<text transform="translate(66,405.1) rotate(-90)" textLength="16" lengthAdjust="spacingAndGlyphs">50</text>
<text transform="translate(470,405.1) rotate(90)" textLength="16" lengthAdjust="spacingAndGlyphs">50</text>
<text transform="translate(66,355.6) rotate(-90)" textLength="16" lengthAdjust="spacingAndGlyphs">55</text>
<text transform="translate(470,355.6) rotate(90)" textLength="16" lengthAdjust="spacingAndGlyphs">55</text>
<text transform="translate(66,306.1) rotate(-90)" textLength="16" lengthAdjust="spacingAndGlyphs">60</text>
<text transform="translate(470,306.1) rotate(90)" textLength="16" lengthAdjust="spacingAndGlyphs">60</text>
<text transform="translate(66,256.6) rotate(-90)" textLength="16" lengthAdjust="spacingAndGlyphs">65</text>
<text transform="translate(470,256.6) rotate(90)" textLength="16" lengthAdjust="spacingAndGlyphs">65</text>
<text transform="translate(66,207.1) rotate(-90)" textLength="16" lengthAdjust="spacingAndGlyphs">70</text>
<text transform="translate(470,207.1) rotate(90)" textLength="16" lengthAdjust="spacingAndGlyphs">70</text>
<text transform="translate(66,157.6) rotate(-90)" textLength="16" lengthAdjust="spacingAndGlyphs">75</text>
<text transform="translate(470,157.6) rotate(90)" textLength="16" lengthAdjust="spacingAndGlyphs">75</text>
<text transform="translate(66,108.1) rotate(-90)" textLength="16" lengthAdjust="spacingAndGlyphs">80</text>
<text transform="translate(470,108.1) rotate(90)" textLength="16" lengthAdjust="spacingAndGlyphs">80</text>
</g>
<text x="80.4" y="100" font-size="20.5" font-weight="bold" fill="#000" stroke="#000" stroke-width="0.5" textLength="75" lengthAdjust="spacingAndGlyphs">AMSR2</text>
<clipPath id="clip465"><rect x="536" y="70" width="394" height="394"/></clipPath>
<g clip-path="url(#clip465)">
<rect x="536" y="70" width="394" height="394" fill="#fff"/>
<g shape-rendering="crispEdges">
<polygon points="525,183.6 535,183.6 554.5,184.2 566.2,188.1 577.9,190.1 589.6,190.1 591.6,192 590.9,190.1 581.8,189.4 577.9,186.2 567.5,184.9 563.6,181.6 561,173.8 555.8,172.5 555.8,172.2 574,171.2 600,169.9 619.5,166 626,160.8 633.8,155.6 645.5,153 658,152.2 677.5,148.9 697,146.3 716.5,145 742.5,143.7 761.9,142.9 761.9,137.7 771,133.8 784,131.9 797,131.2 810,133.2 820.4,134.5 825.6,135.1 817.8,139 825.6,140.3 830.8,141.6 845,141.3 867.5,141.3 876.5,142.6 885.5,145.3 889.6,148.9 889.1,152.5 883.7,156.1 872,159.7 858.5,163.3 845,166.9 828.7,171.9 812.5,176 803,180.6 819.1,175.4 845,173.2 854,171.4 867.5,169.6 882.8,169.6 886,170.5 891,171.8 899,171.9 919.7,171.4 935,172.3 935,470 525,470" fill="#a9a9a9" stroke="#000" stroke-width="1.2" stroke-linejoin="round"/>
<polygon points="678,101 685,98.5 700,97 713,97 723,100 732,101 725,103 729,106.5 715,107 700,106.5 687,106.5 678,104" fill="#a9a9a9" stroke="#000" stroke-width="1.2" stroke-linejoin="round"/>
<polygon points="693,110 705,108 733,108.5 750,109 753,112 751,119 735,120 720,119 705,117 697,115 693,112" fill="#a9a9a9" stroke="#000" stroke-width="1.2" stroke-linejoin="round"/>
<polygon points="663,109 671,105.5 687,105 695,108.5 693,113.5 680,114.5 666,113" fill="#a9a9a9" stroke="#000" stroke-width="1.2" stroke-linejoin="round"/>
<polygon points="746,128.5 755,122 763,117 775,114.5 785,116 795,119 804,121.5 806,123 801,124 785,126 765,127.5 746,129" fill="#a9a9a9" stroke="#000" stroke-width="1.2" stroke-linejoin="round"/>
<polygon points="872,164 878,163.3 884.5,163.7 883,165.3 875,165.8" fill="#a9a9a9" stroke="#000" stroke-width="1.2" stroke-linejoin="round"/>
<polygon points="849,169.5 857,168.6 865,168.6 862,170.2 852,171" fill="#a9a9a9" stroke="#000" stroke-width="1.2" stroke-linejoin="round"/>
</g>
<g shape-rendering="crispEdges">
<rect x="852" y="241" width="58" height="5" fill="#c080ee"/>
<rect x="769" y="246" width="5" height="5" fill="#8000dc"/>
<rect x="774" y="246" width="5" height="5" fill="#c080ee"/>
<rect x="779" y="246" width="10" height="5" fill="#8000dc"/>
<rect x="789" y="246" width="4" height="5" fill="#c080ee"/>
<rect x="793" y="246" width="5" height="5" fill="#8000dc"/>
<rect x="798" y="246" width="15" height="5" fill="#c080ee"/>
<rect x="813" y="246" width="14" height="5" fill="#8000dc"/>
<rect x="827" y="246" width="15" height="5" fill="#c080ee"/>
<rect x="842" y="246" width="10" height="5" fill="#8000dc"/>
<rect x="852" y="246" width="14" height="5" fill="#c080ee"/>
<rect x="866" y="246" width="10" height="5" fill="#8000dc"/>
<rect x="876" y="246" width="34" height="5" fill="#c080ee"/>
<rect x="725" y="251" width="44" height="5" fill="#c080ee"/>
<rect x="769" y="251" width="10" height="5" fill="#8080c0"/>
<rect x="779" y="251" width="10" height="5" fill="#8000dc"/>
<rect x="789" y="251" width="9" height="5" fill="#8080c0"/>
<rect x="798" y="251" width="15" height="5" fill="#c080ee"/>
<rect x="813" y="251" width="24" height="5" fill="#8000dc"/>
<rect x="837" y="251" width="20" height="5" fill="#c080ee"/>
<rect x="857" y="251" width="5" height="5" fill="#8000dc"/>
<rect x="862" y="251" width="4" height="5" fill="#c080ee"/>
<rect x="866" y="251" width="10" height="5" fill="#8000dc"/>
<rect x="876" y="251" width="20" height="5" fill="#c080ee"/>
<rect x="896" y="251" width="9" height="5" fill="#8000dc"/>
<rect x="905" y="251" width="5" height="5" fill="#c080ee"/>
<rect x="686" y="256" width="44" height="5" fill="#c080ee"/>
<rect x="730" y="256" width="34" height="5" fill="#8000dc"/>
<rect x="764" y="256" width="5" height="5" fill="#000080"/>
<rect x="769" y="256" width="5" height="5" fill="#0000ff"/>
<rect x="774" y="256" width="5" height="5" fill="#000080"/>
<rect x="779" y="256" width="10" height="5" fill="#8000dc"/>
<rect x="789" y="256" width="24" height="5" fill="#000080"/>
<rect x="813" y="256" width="10" height="5" fill="#8000dc"/>
<rect x="823" y="256" width="29" height="5" fill="#000080"/>
<rect x="852" y="256" width="5" height="5" fill="#0000ff"/>
<rect x="857" y="256" width="5" height="5" fill="#000080"/>
<rect x="862" y="256" width="43" height="5" fill="#8000dc"/>
<rect x="905" y="256" width="5" height="5" fill="#c080ee"/>
<rect x="662" y="261" width="10" height="5" fill="#8000dc"/>
<rect x="672" y="261" width="5" height="5" fill="#c080ee"/>
<rect x="677" y="261" width="87" height="5" fill="#8000dc"/>
<rect x="764" y="261" width="5" height="5" fill="#0000ff"/>
<rect x="769" y="261" width="5" height="5" fill="#00ffff"/>
<rect x="774" y="261" width="5" height="5" fill="#000080"/>
<rect x="779" y="261" width="10" height="5" fill="#8000dc"/>
<rect x="789" y="261" width="29" height="5" fill="#000080"/>
<rect x="818" y="261" width="58" height="5" fill="#8000dc"/>
<rect x="876" y="261" width="5" height="5" fill="#000080"/>
<rect x="881" y="261" width="10" height="5" fill="#8000dc"/>
<rect x="891" y="261" width="19" height="5" fill="#c080ee"/>
<rect x="638" y="266" width="92" height="4" fill="#8000dc"/>
<rect x="730" y="266" width="5" height="4" fill="#000080"/>
<rect x="735" y="266" width="15" height="4" fill="#8000dc"/>
<rect x="750" y="266" width="4" height="4" fill="#000080"/>
<rect x="754" y="266" width="5" height="4" fill="#8000dc"/>
<rect x="759" y="266" width="5" height="4" fill="#000080"/>
<rect x="764" y="266" width="5" height="4" fill="#0000ff"/>
<rect x="769" y="266" width="5" height="4" fill="#000080"/>
<rect x="774" y="266" width="15" height="4" fill="#8000dc"/>
<rect x="789" y="266" width="14" height="4" fill="#000080"/>
<rect x="803" y="266" width="5" height="4" fill="#8000dc"/>
<rect x="808" y="266" width="5" height="4" fill="#000080"/>
<rect x="813" y="266" width="68" height="4" fill="#8000dc"/>
<rect x="881" y="266" width="15" height="4" fill="#c080ee"/>
<rect x="896" y="266" width="5" height="4" fill="#8000dc"/>
<rect x="901" y="266" width="9" height="4" fill="#c080ee"/>
<rect x="613" y="270" width="122" height="5" fill="#8000dc"/>
<rect x="735" y="270" width="34" height="5" fill="#000080"/>
<rect x="769" y="270" width="10" height="5" fill="#8000dc"/>
<rect x="779" y="270" width="14" height="5" fill="#000080"/>
<rect x="793" y="270" width="5" height="5" fill="#8000dc"/>
<rect x="798" y="270" width="5" height="5" fill="#000080"/>
<rect x="803" y="270" width="39" height="5" fill="#8000dc"/>
<rect x="594" y="275" width="87" height="5" fill="#8000dc"/>
<rect x="681" y="275" width="25" height="5" fill="#000080"/>
<rect x="706" y="275" width="9" height="5" fill="#8000dc"/>
<rect x="715" y="275" width="39" height="5" fill="#000080"/>
<rect x="754" y="275" width="5" height="5" fill="#0000ff"/>
<rect x="759" y="275" width="10" height="5" fill="#000080"/>
<rect x="769" y="275" width="5" height="5" fill="#8000dc"/>
<rect x="574" y="280" width="15" height="5" fill="#8000dc"/>
<rect x="589" y="280" width="5" height="5" fill="#000080"/>
<rect x="594" y="280" width="5" height="5" fill="#8000dc"/>
<rect x="599" y="280" width="14" height="5" fill="#000080"/>
<rect x="613" y="280" width="25" height="5" fill="#8000dc"/>
<rect x="638" y="280" width="9" height="5" fill="#000080"/>
<rect x="647" y="280" width="5" height="5" fill="#8000dc"/>
<rect x="652" y="280" width="15" height="5" fill="#000080"/>
<rect x="667" y="280" width="5" height="5" fill="#0000ff"/>
<rect x="672" y="280" width="39" height="5" fill="#000080"/>
<rect x="711" y="280" width="4" height="5" fill="#8000dc"/>
<rect x="715" y="280" width="10" height="5" fill="#000080"/>
<rect x="725" y="280" width="5" height="5" fill="#0000ff"/>
<rect x="574" y="285" width="5" height="5" fill="#c080ee"/>
<rect x="579" y="285" width="20" height="5" fill="#8000dc"/>
<rect x="599" y="285" width="9" height="5" fill="#000080"/>
<rect x="608" y="285" width="5" height="5" fill="#0000ff"/>
<rect x="613" y="285" width="5" height="5" fill="#000080"/>
<rect x="618" y="285" width="5" height="5" fill="#0000ff"/>
<rect x="623" y="285" width="44" height="5" fill="#000080"/>
<rect x="667" y="285" width="5" height="5" fill="#8000dc"/>
<rect x="672" y="285" width="24" height="5" fill="#000080"/>
<rect x="696" y="285" width="5" height="5" fill="#8000dc"/>
<rect x="579" y="290" width="5" height="5" fill="#c080ee"/>
<rect x="584" y="290" width="5" height="5" fill="#000080"/>
<rect x="589" y="290" width="10" height="5" fill="#8000dc"/>
<rect x="599" y="290" width="14" height="5" fill="#000080"/>
<rect x="613" y="290" width="59" height="5" fill="#8000dc"/>
<rect x="584" y="295" width="10" height="5" fill="#c080ee"/>
<rect x="594" y="295" width="53" height="5" fill="#8000dc"/>
<rect x="589" y="300" width="10" height="5" fill="#c080ee"/>
<rect x="599" y="300" width="29" height="5" fill="#8000dc"/>
<rect x="594" y="305" width="9" height="4" fill="#c080ee"/>
<rect x="603" y="305" width="5" height="4" fill="#8000dc"/>
</g>
<g shape-rendering="crispEdges">
<polygon points="653,97.2 661,96.4 669.5,97 665,98.4 655,98.4" fill="none" stroke="#000" stroke-width="1.1" stroke-linejoin="round"/>
<polygon points="789.8,388.8 797,387 805.4,384.6 812.6,379.2 819.8,375.6 827,370.8 833,366 839,358.8 843.8,349.2 849.8,346.8 851,348 849.8,354 847.4,364.8 841.4,370.8 833,375.6 827,378 817.4,381.6 812.6,387.6 805.4,390 797,390.6" fill="none" stroke="#000" stroke-width="1.1" stroke-linejoin="round"/>
<polygon points="541.5,179 545,177.7 550,178 552,179.5 548,180.5 542,180.3" fill="none" stroke="#000" stroke-width="1.1" stroke-linejoin="round"/>
<polygon points="754.5,393 757,389.5 760,390 758.5,398.5 755,400" fill="none" stroke="#000" stroke-width="1.1" stroke-linejoin="round"/>
<polygon points="920.5,417 927,411.5 930,412.5 923,419" fill="none" stroke="#000" stroke-width="1.1" stroke-linejoin="round"/>
<polygon points="675.5,401.5 679,398.5 684.5,398.4 687,401.5 683,405.5 677.5,405" fill="none" stroke="#000" stroke-width="1.1" stroke-linejoin="round"/>
<polygon points="545.5,100.5 551,99 558,99.5 553,101.2" fill="none" stroke="#000" stroke-width="1.1" stroke-linejoin="round"/>
<polygon points="549,376 552,374 555,376 553,379 550,378" fill="none" stroke="#000" stroke-width="1.1" stroke-linejoin="round"/>
<polygon points="535,438 541,436.5 548,436.5 545,440.5 537,441" fill="none" stroke="#000" stroke-width="1.1" stroke-linejoin="round"/>
<polygon points="568,440 572,439.5 574,443 571,446 568,444" fill="none" stroke="#000" stroke-width="1.1" stroke-linejoin="round"/>
<polygon points="565,458 567,457 569,458 567,459.3" fill="none" stroke="#000" stroke-width="1.1" stroke-linejoin="round"/>
<polygon points="673,425 676,421.5 680,422 679,427 675,428.5" fill="none" stroke="#000" stroke-width="1.1" stroke-linejoin="round"/>
<polygon points="683,422 687,422.5 686,425 689,428 687,429" fill="none" stroke="#000" stroke-width="1.1" stroke-linejoin="round"/>
<polygon points="589,424 593,422 599,424 601,427.5 595,428 590,426.5" fill="none" stroke="#000" stroke-width="1.1" stroke-linejoin="round"/>
<polygon points="904.5,405 909,402.5 915,404.5 912,408 906,408" fill="none" stroke="#000" stroke-width="1.1" stroke-linejoin="round"/>
<polygon points="579.5,204.5 585,200 592,204 587,207" fill="none" stroke="#000" stroke-width="1.1" stroke-linejoin="round"/>
<polyline points="668,105 687,105" fill="none" stroke="#000" stroke-width="2" stroke-linejoin="round" stroke-linecap="square"/>
<polyline points="663,109.2 695,109.2" fill="none" stroke="#000" stroke-width="2.2" stroke-linejoin="round" stroke-linecap="square"/>
<polyline points="661,112.5 691,112.5" fill="none" stroke="#000" stroke-width="2" stroke-linejoin="round" stroke-linecap="square"/>
<polyline points="668,114.7 682,114.7" fill="none" stroke="#000" stroke-width="1.4" stroke-linejoin="round" stroke-linecap="square"/>
<polyline points="687,106.6 729,106.6" fill="none" stroke="#000" stroke-width="1.8" stroke-linejoin="round" stroke-linecap="square"/>
<polyline points="705,108.2 733,108.5" fill="none" stroke="#000" stroke-width="1.5" stroke-linejoin="round" stroke-linecap="square"/>
<polyline points="676.5,118 680.5,118" fill="none" stroke="#000" stroke-width="1.3" stroke-linejoin="round" stroke-linecap="square"/>
<polyline points="689,127 692,127" fill="none" stroke="#000" stroke-width="1.6" stroke-linejoin="round" stroke-linecap="square"/>
<polyline points="760,119 769,118.5" fill="none" stroke="#000" stroke-width="1.5" stroke-linejoin="round" stroke-linecap="square"/>
<polyline points="776,119.5 782,116.5" fill="none" stroke="#000" stroke-width="1.8" stroke-linejoin="round" stroke-linecap="square"/>
<polyline points="576.6,133.7 580.5,133.7" fill="none" stroke="#000" stroke-width="1.6" stroke-linejoin="round" stroke-linecap="square"/>
<polyline points="570,149 587.7,149" fill="none" stroke="#000" stroke-width="1.8" stroke-linejoin="round" stroke-linecap="square"/>
<polyline points="570,154.5 577.5,155.5" fill="none" stroke="#000" stroke-width="2.6" stroke-linejoin="round" stroke-linecap="square"/>
<polyline points="640.3,138 644.2,137.5" fill="none" stroke="#000" stroke-width="1.6" stroke-linejoin="round" stroke-linecap="square"/>
<polyline points="645.5,136 650.7,135.8" fill="none" stroke="#000" stroke-width="1.8" stroke-linejoin="round" stroke-linecap="square"/>
<polyline points="652,137 656,137" fill="none" stroke="#000" stroke-width="1.4" stroke-linejoin="round" stroke-linecap="square"/>
<polyline points="660,135.3 661.8,135.3" fill="none" stroke="#000" stroke-width="1.3" stroke-linejoin="round" stroke-linecap="square"/>
<polyline points="632.5,151.6 633.8,151.6" fill="none" stroke="#000" stroke-width="1.4" stroke-linejoin="round" stroke-linecap="square"/>
<polyline points="639,150.9 641,150.9" fill="none" stroke="#000" stroke-width="1.4" stroke-linejoin="round" stroke-linecap="square"/>
<polyline points="546,162 552,163" fill="none" stroke="#000" stroke-width="1.6" stroke-linejoin="round" stroke-linecap="square"/>
<polyline points="578,167 591,167.3" fill="none" stroke="#000" stroke-width="1.8" stroke-linejoin="round" stroke-linecap="square"/>
<polyline points="593.5,168 598.7,167.8" fill="none" stroke="#000" stroke-width="1.6" stroke-linejoin="round" stroke-linecap="square"/>
<polyline points="671,132 675,132" fill="none" stroke="#000" stroke-width="1.4" stroke-linejoin="round" stroke-linecap="square"/>
<polyline points="645,136 650,136.5" fill="none" stroke="#000" stroke-width="1.5" stroke-linejoin="round" stroke-linecap="square"/>
<polyline points="763,131.5 768,131.5" fill="none" stroke="#000" stroke-width="1.4" stroke-linejoin="round" stroke-linecap="square"/>
<polyline points="811,126.5 829,127" fill="none" stroke="#000" stroke-width="2.2" stroke-linejoin="round" stroke-linecap="square"/>
<polyline points="693,141 717.8,139.2" fill="none" stroke="#000" stroke-width="2" stroke-linejoin="round" stroke-linecap="square"/>
<polyline points="705,137.5 719,137" fill="none" stroke="#000" stroke-width="2" stroke-linejoin="round" stroke-linecap="square"/>
<polyline points="724,140.3 732,140.5" fill="none" stroke="#000" stroke-width="2.4" stroke-linejoin="round" stroke-linecap="square"/>
<polyline points="681,147.5 723,145.5" fill="none" stroke="#000" stroke-width="2" stroke-linejoin="round" stroke-linecap="square"/>
<polyline points="793,137.5 810,136.5 825,138.5" fill="none" stroke="#000" stroke-width="2" stroke-linejoin="round" stroke-linecap="square"/>
<polyline points="817,139.5 825,140.5" fill="none" stroke="#000" stroke-width="1.8" stroke-linejoin="round" stroke-linecap="square"/>
<polyline points="605,161.5 626,159.5 633,155" fill="none" stroke="#000" stroke-width="2.6" stroke-linejoin="round" stroke-linecap="square"/>
<polyline points="597.4,164 624.7,165.4" fill="none" stroke="#000" stroke-width="2" stroke-linejoin="round" stroke-linecap="square"/>
<polyline points="613,171.2 628.6,169.3" fill="none" stroke="#000" stroke-width="2" stroke-linejoin="round" stroke-linecap="square"/>
<polyline points="613,173.8 623.4,176.4" fill="none" stroke="#000" stroke-width="1.5" stroke-linejoin="round" stroke-linecap="square"/>
<polyline points="575,191 582,193 578,198 578,205 583,207.5" fill="none" stroke="#000" stroke-width="1.6" stroke-linejoin="round" stroke-linecap="square"/>
<polyline points="583,199 588,204 584,207" fill="none" stroke="#000" stroke-width="2.4" stroke-linejoin="round" stroke-linecap="square"/>
<polyline points="543,194.5 551,194" fill="none" stroke="#000" stroke-width="1.8" stroke-linejoin="round" stroke-linecap="square"/>
<polyline points="548,197 560,196" fill="none" stroke="#000" stroke-width="1.8" stroke-linejoin="round" stroke-linecap="square"/>
<polyline points="538,199.5 557,199" fill="none" stroke="#000" stroke-width="1.8" stroke-linejoin="round" stroke-linecap="square"/>
<polyline points="639,179 644,179" fill="none" stroke="#000" stroke-width="1.4" stroke-linejoin="round" stroke-linecap="square"/>
<polyline points="655,182 657,185" fill="none" stroke="#000" stroke-width="1.4" stroke-linejoin="round" stroke-linecap="square"/>
<polyline points="639,189 643,189" fill="none" stroke="#000" stroke-width="2" stroke-linejoin="round" stroke-linecap="square"/>
<polyline points="616.3,185 618.2,185" fill="none" stroke="#000" stroke-width="1.3" stroke-linejoin="round" stroke-linecap="square"/>
<polyline points="628.6,180.3 636.4,180.3" fill="none" stroke="#000" stroke-width="1.2" stroke-linejoin="round" stroke-linecap="square"/>
<polyline points="643,203.7 644,203.7" fill="none" stroke="#000" stroke-width="1.5" stroke-linejoin="round" stroke-linecap="square"/>
<polyline points="652,202.4 654.6,202.4" fill="none" stroke="#000" stroke-width="1.5" stroke-linejoin="round" stroke-linecap="square"/>
<polyline points="628,206 634,212" fill="none" stroke="#000" stroke-width="2" stroke-linejoin="round" stroke-linecap="square"/>
<polyline points="633,206 628,212" fill="none" stroke="#000" stroke-width="2" stroke-linejoin="round" stroke-linecap="square"/>
<polyline points="589.6,209.5 593,210" fill="none" stroke="#000" stroke-width="1.6" stroke-linejoin="round" stroke-linecap="square"/>
<polyline points="596,211 598.7,211" fill="none" stroke="#000" stroke-width="1.6" stroke-linejoin="round" stroke-linecap="square"/>
<polyline points="607.8,210.5 611,211.5" fill="none" stroke="#000" stroke-width="1.6" stroke-linejoin="round" stroke-linecap="square"/>
<polyline points="612,214 614.3,215.4" fill="none" stroke="#000" stroke-width="1.6" stroke-linejoin="round" stroke-linecap="square"/>
<polyline points="535,230.8 545.4,230.8" fill="none" stroke="#000" stroke-width="1.6" stroke-linejoin="round" stroke-linecap="square"/>
<polyline points="535,224 537.6,224" fill="none" stroke="#000" stroke-width="2" stroke-linejoin="round" stroke-linecap="square"/>
<polyline points="617,227.5 618.5,232 621,237" fill="none" stroke="#000" stroke-width="1.5" stroke-linejoin="round" stroke-linecap="square"/>
<polyline points="617,240.7 619.5,240.7" fill="none" stroke="#000" stroke-width="1.8" stroke-linejoin="round" stroke-linecap="square"/>
<polyline points="626,244.5 631,245.5" fill="none" stroke="#000" stroke-width="1.8" stroke-linejoin="round" stroke-linecap="square"/>
<polyline points="631,247.5 633.8,248" fill="none" stroke="#000" stroke-width="1.8" stroke-linejoin="round" stroke-linecap="square"/>
<polyline points="637,241.5 640.3,240.5" fill="none" stroke="#000" stroke-width="1.8" stroke-linejoin="round" stroke-linecap="square"/>
<polyline points="544,262 547,264" fill="none" stroke="#000" stroke-width="1.6" stroke-linejoin="round" stroke-linecap="square"/>
<polyline points="557,265.3 565,265.3" fill="none" stroke="#000" stroke-width="1.8" stroke-linejoin="round" stroke-linecap="square"/>
<polyline points="628.6,261 631.2,262" fill="none" stroke="#000" stroke-width="1.4" stroke-linejoin="round" stroke-linecap="square"/>
<polyline points="744,145 749.5,150 753.5,156 756,163" fill="none" stroke="#000" stroke-width="1.5" stroke-linejoin="round" stroke-linecap="square"/>
<polyline points="746.4,162 755,161 775,162.5" fill="none" stroke="#000" stroke-width="1.8" stroke-linejoin="round" stroke-linecap="square"/>
<polyline points="750,166 761,167" fill="none" stroke="#000" stroke-width="1.6" stroke-linejoin="round" stroke-linecap="square"/>
<polyline points="735,145 753,147" fill="none" stroke="#000" stroke-width="1.6" stroke-linejoin="round" stroke-linecap="square"/>
<polyline points="746,149 752,151" fill="none" stroke="#000" stroke-width="1.6" stroke-linejoin="round" stroke-linecap="square"/>
<polyline points="751,155 760.6,157" fill="none" stroke="#000" stroke-width="1.6" stroke-linejoin="round" stroke-linecap="square"/>
<polyline points="790.5,158.5 799,158 810,161" fill="none" stroke="#000" stroke-width="2.2" stroke-linejoin="round" stroke-linecap="square"/>
<polyline points="792,162.2 803,162.8" fill="none" stroke="#000" stroke-width="1.6" stroke-linejoin="round" stroke-linecap="square"/>
<polyline points="820.4,163.5 833.4,163.7" fill="none" stroke="#000" stroke-width="1.6" stroke-linejoin="round" stroke-linecap="square"/>
<polyline points="784,169 791.8,168" fill="none" stroke="#000" stroke-width="1.5" stroke-linejoin="round" stroke-linecap="square"/>
<polyline points="771,166 776.2,166.5" fill="none" stroke="#000" stroke-width="1.8" stroke-linejoin="round" stroke-linecap="square"/>
<polyline points="749,170.2 753,170.2" fill="none" stroke="#000" stroke-width="1.4" stroke-linejoin="round" stroke-linecap="square"/>
<polyline points="750.2,176.7 764.5,176.7" fill="none" stroke="#000" stroke-width="1.6" stroke-linejoin="round" stroke-linecap="square"/>
<polyline points="745,184.5 758,184.5" fill="none" stroke="#000" stroke-width="2.2" stroke-linejoin="round" stroke-linecap="square"/>
<polyline points="732,192 736,192" fill="none" stroke="#000" stroke-width="1.5" stroke-linejoin="round" stroke-linecap="square"/>
<polyline points="755,176 765,177.5" fill="none" stroke="#000" stroke-width="1.6" stroke-linejoin="round" stroke-linecap="square"/>
<polyline points="761,171.5 765,172" fill="none" stroke="#000" stroke-width="1.6" stroke-linejoin="round" stroke-linecap="square"/>
<polyline points="785,171 789,171.5" fill="none" stroke="#000" stroke-width="1.6" stroke-linejoin="round" stroke-linecap="square"/>
<polyline points="842.5,178 849,178" fill="none" stroke="#000" stroke-width="1.6" stroke-linejoin="round" stroke-linecap="square"/>
<polyline points="859.4,179.3 860.5,179.3" fill="none" stroke="#000" stroke-width="1.5" stroke-linejoin="round" stroke-linecap="square"/>
<polyline points="845,177.5 847,177.5" fill="none" stroke="#000" stroke-width="2" stroke-linejoin="round" stroke-linecap="square"/>
<polyline points="858.5,179.7 860.3,179.7" fill="none" stroke="#000" stroke-width="1.5" stroke-linejoin="round" stroke-linecap="square"/>
<polyline points="870,142.5 878,143.5 879,148 875,149" fill="none" stroke="#000" stroke-width="2.2" stroke-linejoin="round" stroke-linecap="square"/>
<polyline points="881,144.5 888,148 889,151" fill="none" stroke="#000" stroke-width="2.2" stroke-linejoin="round" stroke-linecap="square"/>
<polyline points="877,151 886,153" fill="none" stroke="#000" stroke-width="2" stroke-linejoin="round" stroke-linecap="square"/>
<polyline points="872,155 882,154" fill="none" stroke="#000" stroke-width="1.6" stroke-linejoin="round" stroke-linecap="square"/>
<polyline points="909,165 912.5,165" fill="none" stroke="#000" stroke-width="1.6" stroke-linejoin="round" stroke-linecap="square"/>
<polyline points="897.2,184 900,184" fill="none" stroke="#000" stroke-width="1.5" stroke-linejoin="round" stroke-linecap="square"/>
<polyline points="882,169.5 885,173 884.5,179 889,181.5" fill="none" stroke="#000" stroke-width="1.8" stroke-linejoin="round" stroke-linecap="square"/>
<polyline points="886,175.5 891,175" fill="none" stroke="#000" stroke-width="1.6" stroke-linejoin="round" stroke-linecap="square"/>
<polyline points="885,172 890,172.5" fill="none" stroke="#000" stroke-width="1.5" stroke-linejoin="round" stroke-linecap="square"/>
<polyline points="886,178 890,178.5" fill="none" stroke="#000" stroke-width="1.6" stroke-linejoin="round" stroke-linecap="square"/>
<polyline points="789,233 790,233" fill="none" stroke="#000" stroke-width="1.8" stroke-linejoin="round" stroke-linecap="square"/>
<polyline points="802,179 817,177 832,176" fill="none" stroke="#000" stroke-width="1.6" stroke-linejoin="round" stroke-linecap="square"/>
<polyline points="844,177.5 850,177" fill="none" stroke="#000" stroke-width="1.5" stroke-linejoin="round" stroke-linecap="square"/>
<polyline points="859,179.5 861,179.5" fill="none" stroke="#000" stroke-width="1.6" stroke-linejoin="round" stroke-linecap="square"/>
<polyline points="641.5,214 655,213.5 668.8,213.8" fill="none" stroke="#000" stroke-width="1.6" stroke-linejoin="round" stroke-linecap="square"/>
<polyline points="652,211.5 661,211.5" fill="none" stroke="#000" stroke-width="1.4" stroke-linejoin="round" stroke-linecap="square"/>
<polyline points="649.3,219.7 672.7,219.7" fill="none" stroke="#000" stroke-width="2" stroke-linejoin="round" stroke-linecap="square"/>
<polyline points="661,217 672.7,216.5" fill="none" stroke="#000" stroke-width="1.5" stroke-linejoin="round" stroke-linecap="square"/>
<polyline points="646.7,223.3 677.9,222.8" fill="none" stroke="#000" stroke-width="2" stroke-linejoin="round" stroke-linecap="square"/>
<polyline points="662.3,228.8 672.7,229.5 680.5,226.2 684.4,223 691.6,223" fill="none" stroke="#000" stroke-width="1.8" stroke-linejoin="round" stroke-linecap="square"/>
<polyline points="671.4,234 685.7,234" fill="none" stroke="#000" stroke-width="1.8" stroke-linejoin="round" stroke-linecap="square"/>
<polyline points="672.7,236.6 680.5,236" fill="none" stroke="#000" stroke-width="1.6" stroke-linejoin="round" stroke-linecap="square"/>
<polyline points="688.3,214.5 697.4,217.1" fill="none" stroke="#000" stroke-width="1.6" stroke-linejoin="round" stroke-linecap="square"/>
<polyline points="687.7,236.6 695.5,243.1" fill="none" stroke="#000" stroke-width="1.8" stroke-linejoin="round" stroke-linecap="square"/>
<polyline points="701.3,237.3 705.2,241.2" fill="none" stroke="#000" stroke-width="1.8" stroke-linejoin="round" stroke-linecap="square"/>
<polyline points="637.6,240.8 640.2,241" fill="none" stroke="#000" stroke-width="2" stroke-linejoin="round" stroke-linecap="square"/>
<polyline points="642.2,203.5 643,203.5" fill="none" stroke="#000" stroke-width="1.6" stroke-linejoin="round" stroke-linecap="square"/>
<polyline points="653.9,202.2 654.5,202.5" fill="none" stroke="#000" stroke-width="1.5" stroke-linejoin="round" stroke-linecap="square"/>
<polyline points="681.8,200.9 683.5,200.9" fill="none" stroke="#000" stroke-width="1.4" stroke-linejoin="round" stroke-linecap="square"/>
<polyline points="700,199.6 707.8,196.3" fill="none" stroke="#000" stroke-width="1.5" stroke-linejoin="round" stroke-linecap="square"/>
<polyline points="764.6,345.6 769.4,343.2 777.8,342.6 782.6,344.4 785,351.6 783.8,357.6 783.8,363.6 787.4,369.6 786.2,373.2" fill="none" stroke="#000" stroke-width="1.8" stroke-linejoin="round" stroke-linecap="square"/>
<polyline points="769,346 774,348 771,352 776,355" fill="none" stroke="#000" stroke-width="2.6" stroke-linejoin="round" stroke-linecap="square"/>
<polyline points="759.2,352.2 766.4,352.2" fill="none" stroke="#000" stroke-width="1.6" stroke-linejoin="round" stroke-linecap="square"/>
<polyline points="781,368 789,370" fill="none" stroke="#000" stroke-width="1.5" stroke-linejoin="round" stroke-linecap="square"/>
<polyline points="745,391 748,391" fill="none" stroke="#000" stroke-width="1.4" stroke-linejoin="round" stroke-linecap="square"/>
<polyline points="740,413 746,413" fill="none" stroke="#000" stroke-width="1.6" stroke-linejoin="round" stroke-linecap="square"/>
<polyline points="748,423.5 751,423.5" fill="none" stroke="#000" stroke-width="1.4" stroke-linejoin="round" stroke-linecap="square"/>
<polyline points="752,437 757,437" fill="none" stroke="#000" stroke-width="1.8" stroke-linejoin="round" stroke-linecap="square"/>
<polyline points="742,449 746,449" fill="none" stroke="#000" stroke-width="1.8" stroke-linejoin="round" stroke-linecap="square"/>
<polyline points="757,453 762,453" fill="none" stroke="#000" stroke-width="1.8" stroke-linejoin="round" stroke-linecap="square"/>
<polyline points="765,452.5 769,453" fill="none" stroke="#000" stroke-width="1.8" stroke-linejoin="round" stroke-linecap="square"/>
<polyline points="787,431.5 792,433" fill="none" stroke="#000" stroke-width="1.6" stroke-linejoin="round" stroke-linecap="square"/>
<polyline points="798,435 803,435.5" fill="none" stroke="#000" stroke-width="1.6" stroke-linejoin="round" stroke-linecap="square"/>
<polyline points="787,459 790,459" fill="none" stroke="#000" stroke-width="1.6" stroke-linejoin="round" stroke-linecap="square"/>
<polyline points="814.5,393 816.5,393" fill="none" stroke="#000" stroke-width="2" stroke-linejoin="round" stroke-linecap="square"/>
<polyline points="863,347.5 865,347.5" fill="none" stroke="#000" stroke-width="1.4" stroke-linejoin="round" stroke-linecap="square"/>
<polyline points="868,352.5 870,352.5" fill="none" stroke="#000" stroke-width="1.5" stroke-linejoin="round" stroke-linecap="square"/>
<polyline points="873,357 876,357" fill="none" stroke="#000" stroke-width="1.5" stroke-linejoin="round" stroke-linecap="square"/>
<polyline points="878,354.5 888,352.5" fill="none" stroke="#000" stroke-width="1.8" stroke-linejoin="round" stroke-linecap="square"/>
<polyline points="865,379 872,377" fill="none" stroke="#000" stroke-width="2" stroke-linejoin="round" stroke-linecap="square"/>
<polyline points="876,385 883,382.5" fill="none" stroke="#000" stroke-width="1.8" stroke-linejoin="round" stroke-linecap="square"/>
<polyline points="872,393 874,393" fill="none" stroke="#000" stroke-width="1.5" stroke-linejoin="round" stroke-linecap="square"/>
<polyline points="898,397 900,397.5" fill="none" stroke="#000" stroke-width="1.8" stroke-linejoin="round" stroke-linecap="square"/>
<polyline points="912,409 918,411" fill="none" stroke="#000" stroke-width="1.5" stroke-linejoin="round" stroke-linecap="square"/>
<polyline points="890,417.5 898,418" fill="none" stroke="#000" stroke-width="1.5" stroke-linejoin="round" stroke-linecap="square"/>
<polyline points="922,428 930,426" fill="none" stroke="#000" stroke-width="2" stroke-linejoin="round" stroke-linecap="square"/>
<polyline points="923,449 927,448.5" fill="none" stroke="#000" stroke-width="1.8" stroke-linejoin="round" stroke-linecap="square"/>
<polyline points="553,351.5 559,351.5" fill="none" stroke="#000" stroke-width="1.8" stroke-linejoin="round" stroke-linecap="square"/>
<polyline points="535,355.5 543,355.5" fill="none" stroke="#000" stroke-width="1.8" stroke-linejoin="round" stroke-linecap="square"/>
<polyline points="567,366 575,362 587,357" fill="none" stroke="#000" stroke-width="1.6" stroke-linejoin="round" stroke-linecap="square"/>
<polyline points="539,370.5 543,371" fill="none" stroke="#000" stroke-width="2" stroke-linejoin="round" stroke-linecap="square"/>
<polyline points="563,375 565,376.5" fill="none" stroke="#000" stroke-width="1.6" stroke-linejoin="round" stroke-linecap="square"/>
<polyline points="563,388 568,383" fill="none" stroke="#000" stroke-width="1.6" stroke-linejoin="round" stroke-linecap="square"/>
<polyline points="568,383 573,378" fill="none" stroke="#000" stroke-width="1.8" stroke-linejoin="round" stroke-linecap="square"/>
<polyline points="549,384 551,384" fill="none" stroke="#000" stroke-width="1.5" stroke-linejoin="round" stroke-linecap="square"/>
<polyline points="563,397.5 565,397.5" fill="none" stroke="#000" stroke-width="1.5" stroke-linejoin="round" stroke-linecap="square"/>
<polyline points="535,373 537,373" fill="none" stroke="#000" stroke-width="1.4" stroke-linejoin="round" stroke-linecap="square"/>
<polyline points="663,356 670,354 677,352" fill="none" stroke="#000" stroke-width="1.8" stroke-linejoin="round" stroke-linecap="square"/>
<polyline points="663,356 667,366 671,367" fill="none" stroke="#000" stroke-width="1.6" stroke-linejoin="round" stroke-linecap="square"/>
<polyline points="653.5,359.5 656.5,359.5" fill="none" stroke="#000" stroke-width="2.2" stroke-linejoin="round" stroke-linecap="square"/>
<polyline points="648,349.5 651,349.5" fill="none" stroke="#000" stroke-width="1.4" stroke-linejoin="round" stroke-linecap="square"/>
<polyline points="629.5,387.5 632.5,391.5" fill="none" stroke="#000" stroke-width="1.8" stroke-linejoin="round" stroke-linecap="square"/>
<polyline points="650,401 654,401" fill="none" stroke="#000" stroke-width="1.6" stroke-linejoin="round" stroke-linecap="square"/>
<polyline points="661,404 665,404" fill="none" stroke="#000" stroke-width="1.6" stroke-linejoin="round" stroke-linecap="square"/>
<polyline points="658.5,410.5 661,411" fill="none" stroke="#000" stroke-width="1.6" stroke-linejoin="round" stroke-linecap="square"/>
<polyline points="671,414 674,414" fill="none" stroke="#000" stroke-width="1.6" stroke-linejoin="round" stroke-linecap="square"/>
<polyline points="681,412.5 691,414.5" fill="none" stroke="#000" stroke-width="2" stroke-linejoin="round" stroke-linecap="square"/>
<polyline points="591,408.8 599,413.6 589.4,416.8 592.6,422" fill="none" stroke="#000" stroke-width="1.5" stroke-linejoin="round" stroke-linecap="square"/>
<polyline points="609,417 615,417" fill="none" stroke="#000" stroke-width="2.2" stroke-linejoin="round" stroke-linecap="square"/>
<polyline points="635,417.5 644,421.5" fill="none" stroke="#000" stroke-width="1.6" stroke-linejoin="round" stroke-linecap="square"/>
<polyline points="653,419.5 655,419.5" fill="none" stroke="#000" stroke-width="1.5" stroke-linejoin="round" stroke-linecap="square"/>
<polyline points="625,432 631,431 628,436" fill="none" stroke="#000" stroke-width="1.8" stroke-linejoin="round" stroke-linecap="square"/>
<polyline points="561,438 568,440" fill="none" stroke="#000" stroke-width="1.8" stroke-linejoin="round" stroke-linecap="square"/>
<polyline points="573,444 577,449" fill="none" stroke="#000" stroke-width="1.5" stroke-linejoin="round" stroke-linecap="square"/>
<polyline points="580,454 587,456" fill="none" stroke="#000" stroke-width="2.2" stroke-linejoin="round" stroke-linecap="square"/>
<polyline points="611,447.5 617,445.5" fill="none" stroke="#000" stroke-width="1.8" stroke-linejoin="round" stroke-linecap="square"/>
<polyline points="666,448 675,449" fill="none" stroke="#000" stroke-width="2.4" stroke-linejoin="round" stroke-linecap="square"/>
<polyline points="665,457 668,457" fill="none" stroke="#000" stroke-width="1.6" stroke-linejoin="round" stroke-linecap="square"/>
<polyline points="701,442.5 711,443" fill="none" stroke="#000" stroke-width="1.6" stroke-linejoin="round" stroke-linecap="square"/>
<polyline points="721,446 727,447.5" fill="none" stroke="#000" stroke-width="1.8" stroke-linejoin="round" stroke-linecap="square"/>
<polyline points="717,381 727,378" fill="none" stroke="#000" stroke-width="1.8" stroke-linejoin="round" stroke-linecap="square"/>
<polyline points="698,391.5 701,394.5" fill="none" stroke="#000" stroke-width="1.5" stroke-linejoin="round" stroke-linecap="square"/>
<polyline points="726,399 728,399" fill="none" stroke="#000" stroke-width="1.5" stroke-linejoin="round" stroke-linecap="square"/>
<polyline points="717,413.5 720,413.5" fill="none" stroke="#000" stroke-width="1.5" stroke-linejoin="round" stroke-linecap="square"/>
<polyline points="724,417 729,417" fill="none" stroke="#000" stroke-width="2" stroke-linejoin="round" stroke-linecap="square"/>
<polyline points="703,420.5 708,420.5" fill="none" stroke="#000" stroke-width="1.3" stroke-linejoin="round" stroke-linecap="square"/>
<polyline points="711,420.5 716,420.5" fill="none" stroke="#000" stroke-width="1.3" stroke-linejoin="round" stroke-linecap="square"/>
<polygon points="737,119 755,118.6 753,121 741,121.5" fill="#000"/>
</g>
<g stroke="#000" stroke-width="1" stroke-dasharray="1 3" shape-rendering="crispEdges">
<line x1="555.5" y1="70" x2="555.5" y2="464"/>
<line x1="604.5" y1="70" x2="604.5" y2="464"/>
<line x1="653.5" y1="70" x2="653.5" y2="464"/>
<line x1="703.5" y1="70" x2="703.5" y2="464"/>
<line x1="752.5" y1="70" x2="752.5" y2="464"/>
<line x1="802.5" y1="70" x2="802.5" y2="464"/>
<line x1="851.5" y1="70" x2="851.5" y2="464"/>
<line x1="900.5" y1="70" x2="900.5" y2="464"/>
<line x1="537" y1="454.5" x2="930" y2="454.5"/>
<line x1="537" y1="405.5" x2="930" y2="405.5"/>
<line x1="537" y1="355.5" x2="930" y2="355.5"/>
<line x1="537" y1="306.5" x2="930" y2="306.5"/>
<line x1="537" y1="257.5" x2="930" y2="257.5"/>
<line x1="537" y1="207.5" x2="930" y2="207.5"/>
<line x1="537" y1="158.5" x2="930" y2="158.5"/>
<line x1="537" y1="108.5" x2="930" y2="108.5"/>
</g>
</g>
<g shape-rendering="crispEdges">
<rect x="532.5" y="66.5" width="401" height="401" fill="none" stroke="#000" stroke-width="1"/>
<rect x="535.5" y="69.5" width="395" height="395" fill="none" stroke="#000" stroke-width="1"/>
<rect x="555" y="67" width="50" height="2" fill="#000"/>
<rect x="555" y="465" width="50" height="2" fill="#000"/>
<rect x="653" y="67" width="51" height="2" fill="#000"/>
<rect x="653" y="465" width="51" height="2" fill="#000"/>
<rect x="752" y="67" width="51" height="2" fill="#000"/>
<rect x="752" y="465" width="51" height="2" fill="#000"/>
<rect x="851" y="67" width="50" height="2" fill="#000"/>
<rect x="851" y="465" width="50" height="2" fill="#000"/>
<rect x="533" y="109" width="2" height="50" fill="#000"/>
<rect x="931" y="109" width="2" height="50" fill="#000"/>
<rect x="533" y="208" width="2" height="50" fill="#000"/>
<rect x="931" y="208" width="2" height="50" fill="#000"/>
<rect x="533" y="307" width="2" height="49" fill="#000"/>
<rect x="931" y="307" width="2" height="49" fill="#000"/>
<rect x="533" y="406" width="2" height="49" fill="#000"/>
<rect x="931" y="406" width="2" height="49" fill="#000"/>
</g>
<g font-size="11.5" fill="#000" text-anchor="middle">
<text x="555.2" y="64.6" textLength="16" lengthAdjust="spacingAndGlyphs">80</text>
<text x="555.2" y="477.8" textLength="16" lengthAdjust="spacingAndGlyphs">80</text>
<text x="604.6" y="64.6" textLength="16" lengthAdjust="spacingAndGlyphs">85</text>
<text x="604.6" y="477.8" textLength="16" lengthAdjust="spacingAndGlyphs">85</text>
<text x="653.9" y="64.6" textLength="16" lengthAdjust="spacingAndGlyphs">90</text>
<text x="653.9" y="477.8" textLength="16" lengthAdjust="spacingAndGlyphs">90</text>
<text x="703.2" y="64.6" textLength="16" lengthAdjust="spacingAndGlyphs">95</text>
<text x="703.2" y="477.8" textLength="16" lengthAdjust="spacingAndGlyphs">95</text>
<text x="752.6" y="64.6" textLength="22.5" lengthAdjust="spacingAndGlyphs">100</text>
<text x="752.6" y="477.8" textLength="22.5" lengthAdjust="spacingAndGlyphs">100</text>
<text x="801.9" y="64.6" textLength="22.5" lengthAdjust="spacingAndGlyphs">105</text>
<text x="801.9" y="477.8" textLength="22.5" lengthAdjust="spacingAndGlyphs">105</text>
<text x="851.2" y="64.6" textLength="22.5" lengthAdjust="spacingAndGlyphs">110</text>
<text x="851.2" y="477.8" textLength="22.5" lengthAdjust="spacingAndGlyphs">110</text>
<text x="900.5" y="64.6" textLength="22.5" lengthAdjust="spacingAndGlyphs">115</text>
<text x="900.5" y="477.8" textLength="22.5" lengthAdjust="spacingAndGlyphs">115</text>
<text transform="translate(531,454.6) rotate(-90)" textLength="16" lengthAdjust="spacingAndGlyphs">45</text>
<text transform="translate(935,454.6) rotate(90)" textLength="16" lengthAdjust="spacingAndGlyphs">45</text>
<text transform="translate(531,405.1) rotate(-90)" textLength="16" lengthAdjust="spacingAndGlyphs">50</text>
<text transform="translate(935,405.1) rotate(90)" textLength="16" lengthAdjust="spacingAndGlyphs">50</text>
<text transform="translate(531,355.6) rotate(-90)" textLength="16" lengthAdjust="spacingAndGlyphs">55</text>
<text transform="translate(935,355.6) rotate(90)" textLength="16" lengthAdjust="spacingAndGlyphs">55</text>
<text transform="translate(531,306.1) rotate(-90)" textLength="16" lengthAdjust="spacingAndGlyphs">60</text>
<text transform="translate(935,306.1) rotate(90)" textLength="16" lengthAdjust="spacingAndGlyphs">60</text>
<text transform="translate(531,256.6) rotate(-90)" textLength="16" lengthAdjust="spacingAndGlyphs">65</text>
<text transform="translate(935,256.6) rotate(90)" textLength="16" lengthAdjust="spacingAndGlyphs">65</text>
<text transform="translate(531,207.1) rotate(-90)" textLength="16" lengthAdjust="spacingAndGlyphs">70</text>
<text transform="translate(935,207.1) rotate(90)" textLength="16" lengthAdjust="spacingAndGlyphs">70</text>
<text transform="translate(531,157.6) rotate(-90)" textLength="16" lengthAdjust="spacingAndGlyphs">75</text>
<text transform="translate(935,157.6) rotate(90)" textLength="16" lengthAdjust="spacingAndGlyphs">75</text>
<text transform="translate(531,108.1) rotate(-90)" textLength="16" lengthAdjust="spacingAndGlyphs">80</text>
<text transform="translate(935,108.1) rotate(90)" textLength="16" lengthAdjust="spacingAndGlyphs">80</text>
</g>
<text x="545.5" y="100" font-size="20.5" font-weight="bold" fill="#000" stroke="#000" stroke-width="0.5" textLength="280.5" lengthAdjust="spacingAndGlyphs">2ADPR precipRateESurface</text>
<g shape-rendering="crispEdges">
<rect x="608" y="15" width="26" height="15" fill="#8000dc"/>
<rect x="634" y="15" width="25" height="15" fill="#000080"/>
<rect x="659" y="15" width="25" height="15" fill="#0000ff"/>
<rect x="684" y="15" width="25" height="15" fill="#0080ff"/>
<rect x="709" y="15" width="25" height="15" fill="#00ffff"/>
<rect x="734" y="15" width="25" height="15" fill="#80ff80"/>
<rect x="759" y="15" width="25" height="15" fill="#ffff00"/>
<rect x="784" y="15" width="25" height="15" fill="#ff8000"/>
<rect x="809" y="15" width="25" height="15" fill="#ff0000"/>
<rect x="834" y="15" width="26" height="15" fill="#800000"/>
<rect x="607.5" y="14.5" width="253" height="16" fill="none" stroke="#000" stroke-width="1"/>
</g>
<g font-size="12.6" fill="#000" text-anchor="middle">
<text x="632.2" y="46" textLength="7.5" lengthAdjust="spacingAndGlyphs">0</text>
<text x="657.4" y="46" textLength="19.6" lengthAdjust="spacingAndGlyphs">0.5</text>
<text x="683" y="46" textLength="7.5" lengthAdjust="spacingAndGlyphs">1</text>
<text x="708" y="46" textLength="7.5" lengthAdjust="spacingAndGlyphs">2</text>
<text x="733" y="46" textLength="7.5" lengthAdjust="spacingAndGlyphs">3</text>
<text x="758" y="46" textLength="7.5" lengthAdjust="spacingAndGlyphs">4</text>
<text x="783.5" y="46" textLength="7.5" lengthAdjust="spacingAndGlyphs">5</text>
<text x="809" y="46" textLength="15" lengthAdjust="spacingAndGlyphs">10</text>
<text x="834" y="46" textLength="15" lengthAdjust="spacingAndGlyphs">25</text>
</g>
<text x="870.5" y="30" font-size="15" fill="#000" stroke="#fff" stroke-width="0.2" textLength="56" lengthAdjust="spacingAndGlyphs">[mm/h]</text>
<clipPath id="wclip"><rect x="76" y="535" width="350" height="179"/></clipPath>
<g clip-path="url(#wclip)">
<rect x="76" y="535" width="350" height="179" fill="#fff"/>
<g shape-rendering="crispEdges">
<polygon points="-92.5,558.7 -88.5,557.3 -86.5,554.8 -81.5,553.1 -76.5,553.5 -69.5,554.3 -63.5,554.8 -54.5,554.3 -48.5,554.8 -39.5,556.3 -32.5,555.8 -22.5,556.5 -18.5,555.3 -14.5,555.8 -9.5,554.8 -6.5,557.3 -10.5,558.8 -12.5,560.3 -17.5,563.3 -18.5,565.8 -16.5,567.3 -9.5,569 -6.5,571.3 -3.5,572.8 -3.5,569.8 -1.5,566.3 -2.5,562 2.5,562.3 5.5,563.3 10.5,564.3 11,566.3 14,568.3 18.5,571.3 20,572.8 15.5,574.3 10.5,575.1 6.5,576.3 11.5,578.3 14.5,578.8 9.5,579.8 5.5,580.8 5.5,582.6 1.5,583.8 -0.5,586.3 0,588.8 -2.5,590.3 -5.5,592.8 -5,596.3 -4.7,598.8 -6,598.8 -7,596.3 -8.5,594.3 -12.5,594 -14.5,595.3 -18.5,594.6 -21.5,596.3 -22,599.3 -22.2,602.3 -20.5,605.3 -18.5,606 -15.5,605.8 -15,603.3 -11.5,602.8 -12,606.3 -13,608.3 -8.5,608.5 -7.7,609.8 -8,613.3 -6.5,615.3 -3.5,614.8 -2,615.8 -2,616.8 -4.5,616.8 -7.5,616.1 -10.5,612.8 -12,611.3 -16,610.3 -19,608.3 -21.5,608.6 -26.5,606.5 -30,603.8 -30,601.3 -32.5,598.8 -37,593.3 -37.5,594.8 -34.5,599.3 -34,601.3 -36.5,599.8 -39,596.3 -41.5,591.8 -45.1,589.8 -47,586.8 -48.5,583.8 -49,581.3 -48.5,577.3 -49.2,575.9 -47.5,575.3 -50.5,574.3 -52.5,572.3 -55,569.8 -57.5,567.3 -61.5,565.8 -64.5,564.5 -70.5,563.8 -74.5,565 -76.5,564.3 -78.5,566.1 -82.5,567.5 -86.5,569.3 -89,569.8 -82.5,565.8 -86.5,565.6 -89.5,563.8 -89.5,561.8 -88.5,561 -85.5,559.8 -90.5,559.8" fill="#a9a9a9"/>
<polygon points="267.5,558.7 271.5,557.3 273.5,554.8 278.5,553.1 283.5,553.5 290.5,554.3 296.5,554.8 305.5,554.3 311.5,554.8 320.5,556.3 327.5,555.8 337.5,556.5 341.5,555.3 345.5,555.8 350.5,554.8 353.5,557.3 349.5,558.8 347.5,560.3 342.5,563.3 341.5,565.8 343.5,567.3 350.5,569 353.5,571.3 356.5,572.8 356.5,569.8 358.5,566.3 357.5,562 362.5,562.3 365.5,563.3 370.5,564.3 371,566.3 374,568.3 378.5,571.3 380,572.8 375.5,574.3 370.5,575.1 366.5,576.3 371.5,578.3 374.5,578.8 369.5,579.8 365.5,580.8 365.5,582.6 361.5,583.8 359.5,586.3 360,588.8 357.5,590.3 354.5,592.8 355,596.3 355.3,598.8 354,598.8 353,596.3 351.5,594.3 347.5,594 345.5,595.3 341.5,594.6 338.5,596.3 338,599.3 337.8,602.3 339.5,605.3 341.5,606 344.5,605.8 345,603.3 348.5,602.8 348,606.3 347,608.3 351.5,608.5 352.3,609.8 352,613.3 353.5,615.3 356.5,614.8 358,615.8 358,616.8 355.5,616.8 352.5,616.1 349.5,612.8 348,611.3 344,610.3 341,608.3 338.5,608.6 333.5,606.5 330,603.8 330,601.3 327.5,598.8 323,593.3 322.5,594.8 325.5,599.3 326,601.3 323.5,599.8 321,596.3 318.5,591.8 314.9,589.8 313,586.8 311.5,583.8 311,581.3 311.5,577.3 310.8,575.9 312.5,575.3 309.5,574.3 307.5,572.3 305,569.8 302.5,567.3 298.5,565.8 295.5,564.5 289.5,563.8 285.5,565 283.5,564.3 281.5,566.1 277.5,567.5 273.5,569.3 271,569.8 277.5,565.8 273.5,565.6 270.5,563.8 270.5,561.8 271.5,561 274.5,559.8 269.5,559.8" fill="#a9a9a9"/>
<polygon points="-60.5,554.8 -50.5,551.3 -49,548.3 -44,546 -32.5,546 -20.5,544 -12,542 13.5,542 13.5,558.3 11.5,562.3 -2.5,562.3 -6.5,558.3 -19.5,557.3 -44.5,556.8" fill="#a9a9a9"/>
<polygon points="299.5,554.8 309.5,551.3 311,548.3 316,546 327.5,546 339.5,544 348,542 373.5,542 373.5,558.3 371.5,562.3 357.5,562.3 353.5,558.3 340.5,557.3 315.5,556.8" fill="#a9a9a9"/>
<polygon points="16.5,576.8 22.5,577.6 22.9,574.8 20,572.8 16.5,575.8" fill="#a9a9a9"/>
<polygon points="376.5,576.8 382.5,577.6 382.9,574.8 380,572.8 376.5,575.8" fill="#a9a9a9"/>
<polygon points="-9.5,602.5 -4.5,601.3 -1.5,602.3 1.3,604.1 -2,604.4 -6.5,602.7" fill="#a9a9a9"/>
<polygon points="350.5,602.5 355.5,601.3 358.5,602.3 361.3,604.1 358,604.4 353.5,602.7" fill="#a9a9a9"/>
<polygon points="1,606 3.5,604.4 7,605.3 6.7,606.1 3.5,606.3" fill="#a9a9a9"/>
<polygon points="361,606 363.5,604.4 367,605.3 366.7,606.1 363.5,606.3" fill="#a9a9a9"/>
<polygon points="-2,615.8 0.5,613.3 3.5,612.3 6.5,612.3 11.5,613.8 14.5,613.8 17.5,617.3 23.5,619.3 25.5,622.8 27.5,625.3 31.5,626.8 36.5,627.8 40.5,629.8 40.5,633.3 37,637.3 36.5,641.8 35,645.8 31.5,647.3 27.5,650.3 26.5,653.3 22.5,657.8 17.5,658.8 18.5,661.8 13.5,663.3 10.5,665.3 11.5,667.3 8,670.8 9.5,672.3 6.5,675.3 7,677.3 5,678.8 1.5,676.8 0,672.3 1.5,668.3 2,664.3 2,661.3 4,656.3 4.2,652.3 5,647.3 5.2,642.3 0,639.3 -2.5,634.3 -5.5,630.3 -5,627.8 -4.5,625.3 -3.5,622.8 -2,620.3 -2,617.3" fill="#a9a9a9"/>
<polygon points="358,615.8 360.5,613.3 363.5,612.3 366.5,612.3 371.5,613.8 374.5,613.8 377.5,617.3 383.5,619.3 385.5,622.8 387.5,625.3 391.5,626.8 396.5,627.8 400.5,629.8 400.5,633.3 397,637.3 396.5,641.8 395,645.8 391.5,647.3 387.5,650.3 386.5,653.3 382.5,657.8 377.5,658.8 378.5,661.8 373.5,663.3 370.5,665.3 371.5,667.3 368,670.8 369.5,672.3 366.5,675.3 367,677.3 365,678.8 361.5,676.8 360,672.3 361.5,668.3 362,664.3 362,661.3 364,656.3 364.2,652.3 365,647.3 365.2,642.3 360,639.3 357.5,634.3 354.5,630.3 355,627.8 355.5,625.3 356.5,622.8 358,620.3 358,617.3" fill="#a9a9a9"/>
<polygon points="58.5,603.3 59.5,600.3 62.5,596.8 65.5,594.8 66,592.3 69.5,588.6 73.5,589.1 78.5,587.5 85.5,587 86.5,589.3 85.5,590.5 90.5,592 95.5,593.8 95.5,592 98.5,591.8 100.5,592.7 104.5,593.4 107.8,593.1 108.5,595.3 110.5,600.3 113,605.8 114.5,608.3 117,610.8 118.8,612.5 126.5,612.5 126.5,613.9 123.5,619.8 118.5,625.3 115.5,627.3 114.5,630.3 115.5,635.3 116,639.3 111,645.3 111,648.3 108,650.3 108,653.3 105.5,655.8 101.5,658.3 97.5,658.6 94,658.6 93.5,655.8 91,651.3 90,646.8 87.3,641.3 89,635.8 87.5,630.3 84.5,625.3 85,620.8 83.5,619.8 80,618 76.5,618.4 73.5,619.6 68,620 65.5,618.3 62.5,616.3 60.5,613.3 58.8,611.8 58.2,609.6 59,607.8 59.5,605.3" fill="#a9a9a9"/>
<polygon points="418.5,603.3 419.5,600.3 422.5,596.8 425.5,594.8 426,592.3 429.5,588.6 433.5,589.1 438.5,587.5 445.5,587 446.5,589.3 445.5,590.5 450.5,592 455.5,593.8 455.5,592 458.5,591.8 460.5,592.7 464.5,593.4 467.8,593.1 468.5,595.3 470.5,600.3 473,605.8 474.5,608.3 477,610.8 478.8,612.5 486.5,612.5 486.5,613.9 483.5,619.8 478.5,625.3 475.5,627.3 474.5,630.3 475.5,635.3 476,639.3 471,645.3 471,648.3 468,650.3 468,653.3 465.5,655.8 461.5,658.3 457.5,658.6 454,658.6 453.5,655.8 451,651.3 450,646.8 447.3,641.3 449,635.8 447.5,630.3 444.5,625.3 445,620.8 443.5,619.8 440,618 436.5,618.4 433.5,619.6 428,620 425.5,618.3 422.5,616.3 420.5,613.3 418.8,611.8 418.2,609.6 419,607.8 419.5,605.3" fill="#a9a9a9"/>
<polygon points="125,636.3 126,639.8 125,641.3 123,649.1 120.5,649.8 119,646.3 119.7,641.3 122,639.8" fill="#a9a9a9"/>
<polygon points="485,636.3 486,639.8 485,641.3 483,649.1 480.5,649.8 479,646.3 479.7,641.3 482,639.8" fill="#a9a9a9"/>
<polygon points="65.5,580.8 73.5,580.3 74.5,577.3 71,575.8 75.5,574.3 77,572 81,571 82,568 78,564 82,560 88,555.5 97,554 110,554.5 115,556 118,558.5 120,556.5 125,555.5 128,555.5 135.5,554.8 142,553 152,551.5 162,550 172,548.3 175.5,545.3 180,547 190,551 205,553 212,550 218,549.5 226,551 236,554.5 254,555 260.5,555.3 266,558.3 262.5,559.8 257.5,559.3 253.5,559.8 255.5,559.3 252.5,561.8 248.5,563.3 243.5,564.3 240,564 238.5,566.3 238,568.3 235.5,571.3 231,573.8 230,575 231.5,567.3 234,566.3 235.5,563.3 230.5,564.8 225.5,564.8 218.5,565.3 215.5,570.3 212.5,570.3 216.5,572.3 216.5,575.8 213.5,578.3 210.5,580.8 206.5,581.8 205,583.3 205,587.8 205,589.3 202,589.8 201.8,587.3 200.5,584.8 197.5,583.8 197,585.3 193,585.8 194.5,587.3 198,587.3 194.5,589.3 196.5,592.3 197.5,594.3 195,598.3 192,601.3 186,603.3 183.5,602.8 181.5,604.3 181.3,605.3 184,609.3 184.7,612.3 182.5,613.8 180.3,615.7 180.5,613.8 178.5,613.8 175.5,610.8 174.7,614.3 176,617.3 179,620.3 179.7,623 176.5,621.3 175.5,618.3 173.8,616.3 174,611.8 173,607.8 170,608.3 169.5,604.8 167.5,602.8 165.5,602.3 163.5,602.5 162,604.3 159.5,606.3 156,608.8 155.5,613.8 153.5,617.8 152,614.8 150,610.3 148.5,605.3 148,603.1 145.5,601.8 144,600.8 142,598.8 137,599.1 133,598.5 131.8,597.3 132,600.3 135.3,601.8 133,605.4 130.5,607.3 127.5,608.3 123.5,610.3 119,611.6 117,610.8 114.5,608.3 113,605.8 110.5,600.3 108.5,595.3 107.8,593.1 104.5,593.4 100.5,592.7 95.5,592 86.5,590.3 85.5,587 78.5,587.5 73.5,589.1 69.5,588.6 66,587.8 66.5,585.3" fill="#a9a9a9"/>
<polygon points="425.5,580.8 433.5,580.3 434.5,577.3 431,575.8 435.5,574.3 437,572 441,571 442,568 438,564 442,560 448,555.5 457,554 470,554.5 475,556 478,558.5 480,556.5 485,555.5 488,555.5 495.5,554.8 502,553 512,551.5 522,550 532,548.3 535.5,545.3 540,547 550,551 565,553 572,550 578,549.5 586,551 596,554.5 614,555 620.5,555.3 626,558.3 622.5,559.8 617.5,559.3 613.5,559.8 615.5,559.3 612.5,561.8 608.5,563.3 603.5,564.3 600,564 598.5,566.3 598,568.3 595.5,571.3 591,573.8 590,575 591.5,567.3 594,566.3 595.5,563.3 590.5,564.8 585.5,564.8 578.5,565.3 575.5,570.3 572.5,570.3 576.5,572.3 576.5,575.8 573.5,578.3 570.5,580.8 566.5,581.8 565,583.3 565,587.8 565,589.3 562,589.8 561.8,587.3 560.5,584.8 557.5,583.8 557,585.3 553,585.8 554.5,587.3 558,587.3 554.5,589.3 556.5,592.3 557.5,594.3 555,598.3 552,601.3 546,603.3 543.5,602.8 541.5,604.3 541.3,605.3 544,609.3 544.7,612.3 542.5,613.8 540.3,615.7 540.5,613.8 538.5,613.8 535.5,610.8 534.7,614.3 536,617.3 539,620.3 539.7,623 536.5,621.3 535.5,618.3 533.8,616.3 534,611.8 533,607.8 530,608.3 529.5,604.8 527.5,602.8 525.5,602.3 523.5,602.5 522,604.3 519.5,606.3 516,608.8 515.5,613.8 513.5,617.8 512,614.8 510,610.3 508.5,605.3 508,603.1 505.5,601.8 504,600.8 502,598.8 497,599.1 493,598.5 491.8,597.3 492,600.3 495.3,601.8 493,605.4 490.5,607.3 487.5,608.3 483.5,610.3 479,611.6 477,610.8 474.5,608.3 473,605.8 470.5,600.3 468.5,595.3 467.8,593.1 464.5,593.4 460.5,592.7 455.5,592 446.5,590.3 445.5,587 438.5,587.5 433.5,589.1 429.5,588.6 426,587.8 426.5,585.3" fill="#a9a9a9"/>
<polygon points="70,574.3 77,573.3 77.2,571.6 75.5,570.8 73.5,568.5 73.7,566.8 72.5,565.7 70.5,565.8 69.3,567.3 70.7,569.5 71,571 70.5,572.6" fill="#a9a9a9"/>
<polygon points="430,574.3 437,573.3 437.2,571.6 435.5,570.8 433.5,568.5 433.7,566.8 432.5,565.7 430.5,565.8 429.3,567.3 430.7,569.5 431,571 430.5,572.6" fill="#a9a9a9"/>
<polygon points="206.4,590.3 208.5,588.8 211.5,588.6 213,587.3 215.5,584 215.5,582.8 217,583 217.5,585.3 216.5,586.8 216.3,588.3 216,589.1 214.5,589.5 212.5,589.8 211,590.6 208.5,590" fill="#a9a9a9"/>
<polygon points="566.4,590.3 568.5,588.8 571.5,588.6 573,587.3 575.5,584 575.5,582.8 577,583 577.5,585.3 576.5,586.8 576.3,588.3 576,589.1 574.5,589.5 572.5,589.8 571,590.6 568.5,590" fill="#a9a9a9"/>
<polygon points="205,590.8 207,590.3 207.5,591.8 206.5,593.3 205.5,592.8" fill="#a9a9a9"/>
<polygon points="565,590.8 567,590.3 567.5,591.8 566.5,593.3 565.5,592.8" fill="#a9a9a9"/>
<polygon points="215.5,582.8 216,581.1 217.2,578.8 219.5,580.1 221,581 219,582.3 217,581.8" fill="#a9a9a9"/>
<polygon points="575.5,582.8 576,581.1 577.2,578.8 579.5,580.1 581,581 579,582.3 577,581.8" fill="#a9a9a9"/>
<polygon points="217.5,578.3 219,577.8 218,575.3 218.5,571.8 218,570 217.3,571.3 217.5,576.3" fill="#a9a9a9"/>
<polygon points="577.5,578.3 579,577.8 578,575.3 578.5,571.8 578,570 577.3,571.3 577.5,576.3" fill="#a9a9a9"/>
<polygon points="195.8,601.8 196.5,599.1 197.5,599.3 196.2,602.3" fill="#a9a9a9"/>
<polygon points="555.8,601.8 556.5,599.1 557.5,599.3 556.2,602.3" fill="#a9a9a9"/>
<polygon points="184.2,604.8 186,604.3 186.5,604.8 185,606" fill="#a9a9a9"/>
<polygon points="544.2,604.8 546,604.3 546.5,604.8 545,606" fill="#a9a9a9"/>
<polygon points="194,606 198,605.8 200.5,610.3 203,615.3 202,618.8 197.5,617.8 196.5,614.3 195,612.3 195.5,608.3" fill="#a9a9a9"/>
<polygon points="554,606 558,605.8 560.5,610.3 563,615.3 562,618.8 557.5,617.8 556.5,614.3 555,612.3 555.5,608.3" fill="#a9a9a9"/>
<polygon points="155.3,617.8 155.5,614.6 157.3,616.8 156.5,618.3" fill="#a9a9a9"/>
<polygon points="515.3,617.8 515.5,614.6 517.3,616.8 516.5,618.3" fill="#a9a9a9"/>
<polygon points="170.8,618.7 173.5,620.3 179,625.3 181.5,627.6 181.3,630.1 179.5,629.3 176.5,626.8 174,623.8" fill="#a9a9a9"/>
<polygon points="530.8,618.7 533.5,620.3 539,625.3 541.5,627.6 541.3,630.1 539.5,629.3 536.5,626.8 534,623.8" fill="#a9a9a9"/>
<polygon points="180.7,630.3 183.5,630 187.5,630.6 191.5,631.8 197.5,632.3 203,632.8 200.5,635 191.5,633.3 185.5,632.8 181.5,631.8" fill="#a9a9a9"/>
<polygon points="540.7,630.3 543.5,630 547.5,630.6 551.5,631.8 557.5,632.3 563,632.8 560.5,635 551.5,633.3 545.5,632.8 541.5,631.8" fill="#a9a9a9"/>
<polygon points="185,621.8 187.5,620.3 191,618.3 193,617 195,619.3 194,623.3 193,625.3 192,628 188.5,627.8 185.5,627.3 184.5,624.3" fill="#a9a9a9"/>
<polygon points="545,621.8 547.5,620.3 551,618.3 553,617 555,619.3 554,623.3 553,625.3 552,628 548.5,627.8 545.5,627.3 544.5,624.3" fill="#a9a9a9"/>
<polygon points="195,629.8 196,626.3 194.5,624.8 195.5,623.3 200,622.8 196.5,623.8 198.5,625.3 197.5,628.8 196.5,627.3 196,629.9" fill="#a9a9a9"/>
<polygon points="555,629.8 556,626.3 554.5,624.8 555.5,623.3 560,622.8 556.5,623.8 558.5,625.3 557.5,628.8 556.5,627.3 556,629.9" fill="#a9a9a9"/>
<polygon points="205,625 209.5,625.1 213.5,625.8 217.5,626.8 221.5,628.3 223.5,629.8 225.5,632.3 228,634.8 223.5,634.5 219.5,632.8 216.5,633.8 213.5,632.8 212.5,629.8 208.5,628.3 206.5,626.8" fill="#a9a9a9"/>
<polygon points="565,625 569.5,625.1 573.5,625.8 577.5,626.8 581.5,628.3 583.5,629.8 585.5,632.3 588,634.8 583.5,634.5 579.5,632.8 576.5,633.8 573.5,632.8 572.5,629.8 568.5,628.3 566.5,626.8" fill="#a9a9a9"/>
<polygon points="228,628.8 231.5,630.8 235.5,633.3 237.5,634.8 234.5,634.3 230.5,631.8" fill="#a9a9a9"/>
<polygon points="588,628.8 591.5,630.8 595.5,633.3 597.5,634.8 594.5,634.3 590.5,631.8" fill="#a9a9a9"/>
<polygon points="189,646.3 189.5,650.8 190.5,658.3 193.5,659.3 198.5,658.3 204.5,655.9 207.5,656.3 210.5,659.1 213.5,659.8 214,658.3 215.5,662.3 219.5,662.8 222.5,662.3 225.5,661.8 227,657.3 229,652.3 228.5,649.3 226,646.8 221.5,643.3 221,639.3 219,638.3 218,635 217,637.3 217,640.8 215.5,642 211.5,639.3 212.5,636.3 206.5,635.8 204.5,639.3 201.5,638.3 198,641.3 194.5,644.3 189.5,646" fill="#a9a9a9"/>
<polygon points="549,646.3 549.5,650.8 550.5,658.3 553.5,659.3 558.5,658.3 564.5,655.9 567.5,656.3 570.5,659.1 573.5,659.8 574,658.3 575.5,662.3 579.5,662.8 582.5,662.3 585.5,661.8 587,657.3 589,652.3 588.5,649.3 586,646.8 581.5,643.3 581,639.3 579,638.3 578,635 577,637.3 577,640.8 575.5,642 571.5,639.3 572.5,636.3 566.5,635.8 564.5,639.3 561.5,638.3 558,641.3 554.5,644.3 549.5,646" fill="#a9a9a9"/>
<polygon points="220.2,665.3 223.8,665.3 223.5,667.5 221.5,667.8" fill="#a9a9a9"/>
<polygon points="580.2,665.3 583.8,665.3 583.5,667.5 581.5,667.8" fill="#a9a9a9"/>
<polygon points="248.2,658.8 250,660.3 254,662 252.5,663.6 250.5,665.8 250,663.8 249.3,663.3 250,661.3" fill="#a9a9a9"/>
<polygon points="608.2,658.8 610,660.3 614,662 612.5,663.6 610.5,665.8 610,663.8 609.3,663.3 610,661.3" fill="#a9a9a9"/>
<polygon points="248.2,664.8 249.8,666 248.3,668.1 246.5,669.8 244.5,670.9 242,670.3 243.5,668.3 246.5,666.3" fill="#a9a9a9"/>
<polygon points="608.2,664.8 609.8,666 608.3,668.1 606.5,669.8 604.5,670.9 602,670.3 603.5,668.3 606.5,666.3" fill="#a9a9a9"/>
<polygon points="75.5,694.3 90.5,694.3 105.5,693.8 115.5,693.3 130.5,691.3 145.5,692.3 153.5,693.3 163.5,690.8 175.5,690.3 190.5,690.8 205.5,690.8 215.5,691.1 230.5,693.3 240.5,695.3 245.5,696.3 242.5,701.3 255.5,702.3 270.5,702.8 280.5,701.3 285.5,699.8 300.5,698.3 315.5,697.8 330.5,696.8 350.5,697.3 360.5,695.8 367.5,690.3 372.5,687.8 375.5,689.3 373.5,694.3 375.5,699.3 385.5,702.3 400.5,701.3 408.5,697.3 420.5,696.3 435.5,694.3 435.5,714.3 75.5,714.3" fill="#a9a9a9"/>
<polygon points="435.5,694.3 450.5,694.3 465.5,693.8 475.5,693.3 490.5,691.3 505.5,692.3 513.5,693.3 523.5,690.8 535.5,690.3 550.5,690.8 565.5,690.8 575.5,691.1 590.5,693.3 600.5,695.3 605.5,696.3 602.5,701.3 615.5,702.3 630.5,702.8 640.5,701.3 645.5,699.8 660.5,698.3 675.5,697.8 690.5,696.8 710.5,697.3 720.5,695.8 727.5,690.3 732.5,687.8 735.5,689.3 733.5,694.3 735.5,699.3 745.5,702.3 760.5,701.3 768.5,697.3 780.5,696.3 795.5,694.3 795.5,714.3 435.5,714.3" fill="#a9a9a9"/>
<polygon points="86.5,545.8 91.5,547.8 99.5,547.3 102.5,544.8 95.5,543.8 87.5,544.5" fill="#a9a9a9"/>
<polygon points="446.5,545.8 451.5,547.8 459.5,547.3 462.5,544.8 455.5,543.8 447.5,544.5" fill="#a9a9a9"/>
<polygon points="127.5,553.3 130.5,553.8 132.5,553.5 135.5,550.3 144.5,547.5 138.5,547.3 131.5,549.3 127.5,552.3" fill="#a9a9a9"/>
<polygon points="487.5,553.3 490.5,553.8 492.5,553.5 495.5,550.3 504.5,547.5 498.5,547.3 491.5,549.3 487.5,552.3" fill="#a9a9a9"/>
<polygon points="121.5,543.8 137.5,543.5 133.5,542.8 123.5,543.3" fill="#a9a9a9"/>
<polygon points="481.5,543.8 497.5,543.5 493.5,542.8 483.5,543.3" fill="#a9a9a9"/>
<polygon points="211.5,550.3 217.5,550.8 225.5,549.3 215.5,548.3" fill="#a9a9a9"/>
<polygon points="571.5,550.3 577.5,550.8 585.5,549.3 575.5,548.3" fill="#a9a9a9"/>
<polygon points="253.5,553.3 257.5,552.8 255.5,553.5" fill="#a9a9a9"/>
<polygon points="613.5,553.3 617.5,552.8 615.5,553.5" fill="#a9a9a9"/>
<polygon points="-4,550 0.8,547.6 8,552.4 15.5,558.3 13.5,562.3 5.5,562.8 -1.5,560.3 2.5,557.3 -4.5,554.3" fill="#fff"/>
<polygon points="356,550 360.8,547.6 368,552.4 375.5,558.3 373.5,562.3 365.5,562.8 358.5,560.3 362.5,557.3 355.5,554.3" fill="#fff"/>
<polygon points="70,588.3 75.5,587.8 79.5,587.3 85.5,586.8 85.5,583.3 79.5,583 75.5,584.3 73.5,586.8" fill="#fff"/>
<polygon points="430,588.3 435.5,587.8 439.5,587.3 445.5,586.8 445.5,583.3 439.5,583 435.5,584.3 433.5,586.8" fill="#fff"/>
<polygon points="87,587.3 91.5,586 97.5,586.8 103.5,587.8 109,588.3 110,591.3 105.5,593.3 95.5,593.8 91.5,592.8 87.5,590.8" fill="#fff"/>
<polygon points="447,587.3 451.5,586 457.5,586.8 463.5,587.8 469,588.3 470,591.3 465.5,593.3 455.5,593.8 451.5,592.8 447.5,590.8" fill="#fff"/>
<polygon points="2.5,545.8 9.5,543.8 17.5,542.3 30.5,541.8 45.5,540.8 63.5,542.3 64,544.3 58.5,548.3 54.5,552.3 52.5,554.3 48.5,555.8 42.5,556.3 37.5,558.8 34.5,561.3 31.5,564.3 27.5,563.3 25.5,560.3 23.5,557.8 21.5,554.3 20.5,551.3 17.5,548.8 9.5,548 3.5,546.8" fill="#a9a9a9"/>
<polygon points="362.5,545.8 369.5,543.8 377.5,542.3 390.5,541.8 405.5,540.8 423.5,542.3 424,544.3 418.5,548.3 414.5,552.3 412.5,554.3 408.5,555.8 402.5,556.3 397.5,558.8 394.5,561.3 391.5,564.3 387.5,563.3 385.5,560.3 383.5,557.8 381.5,554.3 380.5,551.3 377.5,548.8 369.5,548 363.5,546.8" fill="#a9a9a9"/>
<polygon points="51.5,558.8 53.5,557.9 59.5,557.8 62,559.3 57.5,560.9 53.5,560.5" fill="#a9a9a9"/>
<polygon points="411.5,558.8 413.5,557.9 419.5,557.8 422,559.3 417.5,560.9 413.5,560.5" fill="#a9a9a9"/>
<polyline points="109,595.8 112.5,602.3 117.5,609.8" fill="none" stroke="#fff" stroke-width="1"/>
<polyline points="124.5,594.8 129.5,599.3" fill="none" stroke="#fff" stroke-width="1.2"/>
</g>
<g stroke="#000" stroke-width="1" stroke-dasharray="1 2" shape-rendering="crispEdges">
<line x1="105.5" y1="537" x2="105.5" y2="714"/>
<line x1="135.5" y1="537" x2="135.5" y2="714"/>
<line x1="165.5" y1="537" x2="165.5" y2="714"/>
<line x1="195.5" y1="537" x2="195.5" y2="714"/>
<line x1="225.5" y1="537" x2="225.5" y2="714"/>
<line x1="255.5" y1="537" x2="255.5" y2="714"/>
<line x1="285.5" y1="537" x2="285.5" y2="714"/>
<line x1="315.5" y1="537" x2="315.5" y2="714"/>
<line x1="345.5" y1="537" x2="345.5" y2="714"/>
<line x1="375.5" y1="537" x2="375.5" y2="714"/>
<line x1="405.5" y1="537" x2="405.5" y2="714"/>
<line x1="77" y1="564.5" x2="426" y2="564.5"/>
<line x1="77" y1="594.5" x2="426" y2="594.5"/>
<line x1="77" y1="624.5" x2="426" y2="624.5"/>
<line x1="77" y1="654.5" x2="426" y2="654.5"/>
<line x1="77" y1="684.5" x2="426" y2="684.5"/>
</g>
<polygon points="173.5,549 160.5,573 186.5,573" fill="#c00000"/>
</g>
<g shape-rendering="crispEdges">
<rect x="72.5" y="531.5" width="356" height="185" fill="none" stroke="#000" stroke-width="1"/>
<rect x="75.5" y="534.5" width="350" height="179" fill="none" stroke="#000" stroke-width="1"/>
<rect x="105" y="532" width="30" height="2" fill="#000"/>
<rect x="105" y="714" width="30" height="2" fill="#000"/>
<rect x="165" y="532" width="30" height="2" fill="#000"/>
<rect x="165" y="714" width="30" height="2" fill="#000"/>
<rect x="225" y="532" width="60" height="2" fill="#000"/>
<rect x="225" y="714" width="60" height="2" fill="#000"/>
<rect x="315" y="532" width="30" height="2" fill="#000"/>
<rect x="315" y="714" width="30" height="2" fill="#000"/>
<rect x="375" y="532" width="30" height="2" fill="#000"/>
<rect x="375" y="714" width="30" height="2" fill="#000"/>
<rect x="73" y="534" width="2" height="30" fill="#000"/>
<rect x="426" y="534" width="2" height="30" fill="#000"/>
<rect x="73" y="594" width="2" height="30" fill="#000"/>
<rect x="426" y="594" width="2" height="30" fill="#000"/>
<rect x="73" y="654" width="2" height="30" fill="#000"/>
<rect x="426" y="654" width="2" height="30" fill="#000"/>
</g>
<g font-size="12.5" fill="#000" text-anchor="middle">
<text x="105.5" y="529.8">30</text>
<text x="105.5" y="728">30</text>
<text x="135.5" y="529.8">60</text>
<text x="135.5" y="728">60</text>
<text x="165.5" y="529.8">90</text>
<text x="165.5" y="728">90</text>
<text x="195.5" y="529.8">120</text>
<text x="195.5" y="728">120</text>
<text x="225.5" y="529.8">150</text>
<text x="225.5" y="728">150</text>
<text x="255.5" y="529.8">180</text>
<text x="255.5" y="728">180</text>
<text x="285.5" y="529.8">−150</text>
<text x="285.5" y="728">−150</text>
<text x="315.5" y="529.8">−120</text>
<text x="315.5" y="728">−120</text>
<text x="345.5" y="529.8">−90</text>
<text x="345.5" y="728">−90</text>
<text x="375.5" y="529.8">−60</text>
<text x="375.5" y="728">−60</text>
<text x="405.5" y="529.8">−30</text>
<text x="405.5" y="728">−30</text>
<text transform="translate(70.8,564.3) rotate(-90)">60</text>
<text transform="translate(431,564.3) rotate(90)">60</text>
<text transform="translate(70.8,594.3) rotate(-90)">30</text>
<text transform="translate(431,594.3) rotate(90)">30</text>
<text transform="translate(70.8,624.3) rotate(-90)">0</text>
<text transform="translate(431,624.3) rotate(90)">0</text>
<text transform="translate(70.8,654.3) rotate(-90)">−30</text>
<text transform="translate(431,654.3) rotate(90)">−30</text>
<text transform="translate(70.8,684.3) rotate(-90)">−60</text>
<text transform="translate(431,684.3) rotate(90)">−60</text>
</g>
<g font-size="14.2" font-weight="bold" fill="#000" stroke="#000" stroke-width="0.55">
<text x="70.6" y="763.3" textLength="128" lengthAdjust="spacingAndGlyphs">2025/09/25 05:48</text>
<text x="70.7" y="793.7" textLength="160.7" lengthAdjust="spacingAndGlyphs">Scene center LAT: 64</text>
<text x="247" y="793.7" textLength="65" lengthAdjust="spacingAndGlyphs" xml:space="preserve">LON:  98</text>
<text x="70.7" y="823.9" textLength="131.6" lengthAdjust="spacingAndGlyphs" xml:space="preserve">DeltaT:  247 (sec)</text>
</g>
<g stroke="#000" stroke-width="1.4" shape-rendering="crispEdges">
<line x1="70.5" y1="849" x2="70.5" y2="970"/>
<line x1="142.5" y1="849" x2="142.5" y2="970"/>
<line x1="214.5" y1="849" x2="214.5" y2="970"/>
<line x1="286.5" y1="849" x2="286.5" y2="970"/>
<line x1="358.5" y1="849" x2="358.5" y2="970"/>
<line x1="430.5" y1="849" x2="430.5" y2="970"/>
<line x1="70" y1="849.5" x2="431" y2="849.5"/>
<line x1="70" y1="889.5" x2="431" y2="889.5"/>
<line x1="70" y1="929.5" x2="431" y2="929.5"/>
<line x1="70" y1="969.5" x2="431" y2="969.5"/>
</g>
<g font-size="16" font-weight="bold" fill="#000" text-anchor="middle" stroke="#000" stroke-width="0.5">
<text x="178" y="880">Blas</text>
<text x="250" y="880">Cor</text>
<text x="322" y="880">RMSE</text>
<text x="394" y="880">N</text>
<text x="106" y="920">Ocean</text>
<text x="178" y="923" font-size="19" textLength="23" lengthAdjust="spacingAndGlyphs">***</text>
<text x="250" y="923" font-size="19" textLength="23" lengthAdjust="spacingAndGlyphs">***</text>
<text x="322" y="923" font-size="19" textLength="23" lengthAdjust="spacingAndGlyphs">***</text>
<text x="394" y="920">0</text>
<text x="106" y="960">Land</text>
<text x="178" y="960">-0.01</text>
<text x="250" y="960">0.47</text>
<text x="322" y="960">0.28</text>
<text x="394" y="960">120</text>
</g>
<g shape-rendering="crispEdges" stroke="#000" stroke-width="1" fill="none">
<rect x="535.5" y="534.5" width="396" height="395"/>
<line x1="579.5" y1="929" x2="579.5" y2="927"/>
<line x1="579.5" y1="535" x2="579.5" y2="537"/>
<line x1="536" y1="886.5" x2="538" y2="886.5"/>
<line x1="931" y1="886.5" x2="929" y2="886.5"/>
<line x1="601.5" y1="929" x2="601.5" y2="927"/>
<line x1="601.5" y1="535" x2="601.5" y2="537"/>
<line x1="536" y1="864.5" x2="538" y2="864.5"/>
<line x1="931" y1="864.5" x2="929" y2="864.5"/>
<line x1="616.5" y1="929" x2="616.5" y2="927"/>
<line x1="616.5" y1="535" x2="616.5" y2="537"/>
<line x1="536" y1="849.5" x2="538" y2="849.5"/>
<line x1="931" y1="849.5" x2="929" y2="849.5"/>
<line x1="626.5" y1="929" x2="626.5" y2="927"/>
<line x1="626.5" y1="535" x2="626.5" y2="537"/>
<line x1="536" y1="839.5" x2="538" y2="839.5"/>
<line x1="931" y1="839.5" x2="929" y2="839.5"/>
<line x1="678.5" y1="929" x2="678.5" y2="927"/>
<line x1="678.5" y1="535" x2="678.5" y2="537"/>
<line x1="536" y1="787.5" x2="538" y2="787.5"/>
<line x1="931" y1="787.5" x2="929" y2="787.5"/>
<line x1="700.5" y1="929" x2="700.5" y2="927"/>
<line x1="700.5" y1="535" x2="700.5" y2="537"/>
<line x1="536" y1="765.5" x2="538" y2="765.5"/>
<line x1="931" y1="765.5" x2="929" y2="765.5"/>
<line x1="715.5" y1="929" x2="715.5" y2="927"/>
<line x1="715.5" y1="535" x2="715.5" y2="537"/>
<line x1="536" y1="750.5" x2="538" y2="750.5"/>
<line x1="931" y1="750.5" x2="929" y2="750.5"/>
<line x1="725.5" y1="929" x2="725.5" y2="927"/>
<line x1="725.5" y1="535" x2="725.5" y2="537"/>
<line x1="536" y1="741.5" x2="538" y2="741.5"/>
<line x1="931" y1="741.5" x2="929" y2="741.5"/>
<line x1="777.5" y1="929" x2="777.5" y2="927"/>
<line x1="777.5" y1="535" x2="777.5" y2="537"/>
<line x1="536" y1="688.5" x2="538" y2="688.5"/>
<line x1="931" y1="688.5" x2="929" y2="688.5"/>
<line x1="799.5" y1="929" x2="799.5" y2="927"/>
<line x1="799.5" y1="535" x2="799.5" y2="537"/>
<line x1="536" y1="666.5" x2="538" y2="666.5"/>
<line x1="931" y1="666.5" x2="929" y2="666.5"/>
<line x1="814.5" y1="929" x2="814.5" y2="927"/>
<line x1="814.5" y1="535" x2="814.5" y2="537"/>
<line x1="536" y1="652.5" x2="538" y2="652.5"/>
<line x1="931" y1="652.5" x2="929" y2="652.5"/>
<line x1="824.5" y1="929" x2="824.5" y2="927"/>
<line x1="824.5" y1="535" x2="824.5" y2="537"/>
<line x1="536" y1="642.5" x2="538" y2="642.5"/>
<line x1="931" y1="642.5" x2="929" y2="642.5"/>
<line x1="876.5" y1="929" x2="876.5" y2="927"/>
<line x1="876.5" y1="535" x2="876.5" y2="537"/>
<line x1="536" y1="589.5" x2="538" y2="589.5"/>
<line x1="931" y1="589.5" x2="929" y2="589.5"/>
<line x1="898.5" y1="929" x2="898.5" y2="927"/>
<line x1="898.5" y1="535" x2="898.5" y2="537"/>
<line x1="536" y1="568.5" x2="538" y2="568.5"/>
<line x1="931" y1="568.5" x2="929" y2="568.5"/>
<line x1="913.5" y1="929" x2="913.5" y2="927"/>
<line x1="913.5" y1="535" x2="913.5" y2="537"/>
<line x1="536" y1="553.5" x2="538" y2="553.5"/>
<line x1="931" y1="553.5" x2="929" y2="553.5"/>
<line x1="923.5" y1="929" x2="923.5" y2="927"/>
<line x1="923.5" y1="535" x2="923.5" y2="537"/>
<line x1="536" y1="543.5" x2="538" y2="543.5"/>
<line x1="931" y1="543.5" x2="929" y2="543.5"/>
<line x1="634.5" y1="929" x2="634.5" y2="925"/>
<line x1="634.5" y1="535" x2="634.5" y2="539"/>
<line x1="536" y1="831.5" x2="540" y2="831.5"/>
<line x1="931" y1="831.5" x2="927" y2="831.5"/>
<line x1="734.5" y1="929" x2="734.5" y2="925"/>
<line x1="734.5" y1="535" x2="734.5" y2="539"/>
<line x1="536" y1="732.5" x2="540" y2="732.5"/>
<line x1="931" y1="732.5" x2="927" y2="732.5"/>
<line x1="832.5" y1="929" x2="832.5" y2="925"/>
<line x1="832.5" y1="535" x2="832.5" y2="539"/>
<line x1="536" y1="633.5" x2="540" y2="633.5"/>
<line x1="931" y1="633.5" x2="927" y2="633.5"/>
</g>
<line x1="536" y1="929" x2="931" y2="534" stroke="#000" stroke-width="1" shape-rendering="crispEdges"/>
<g font-size="19.5" fill="#000" stroke="#fff" stroke-width="0.45" paint-order="normal">
<text x="533.6" y="957" text-anchor="middle" textLength="42.5" lengthAdjust="spacingAndGlyphs">0.01</text>
<text x="632.8" y="957" text-anchor="middle" textLength="42.5" lengthAdjust="spacingAndGlyphs">0.10</text>
<text x="732" y="957" text-anchor="middle" textLength="42.5" lengthAdjust="spacingAndGlyphs">1.00</text>
<text x="831" y="957" text-anchor="middle" textLength="55" lengthAdjust="spacingAndGlyphs">10.00</text>
<text x="930" y="957" text-anchor="middle" textLength="67" lengthAdjust="spacingAndGlyphs">100.00</text>
<text x="486.5" y="930" textLength="41.5" lengthAdjust="spacingAndGlyphs">0.01</text>
<text x="484" y="839" textLength="44" lengthAdjust="spacingAndGlyphs">0.10</text>
<text x="485.5" y="740.5" textLength="42.5" lengthAdjust="spacingAndGlyphs">1.00</text>
<text x="473.5" y="640.8" textLength="54.5" lengthAdjust="spacingAndGlyphs">10.00</text>
<text x="461" y="547.8" textLength="67" lengthAdjust="spacingAndGlyphs">100.00</text>
<text x="600" y="980" textLength="271" lengthAdjust="spacingAndGlyphs">DPR Precipitation (mm/h)</text>
<text transform="translate(444,878) rotate(-90)" textLength="298" lengthAdjust="spacingAndGlyphs">AMSR2 Precipitation (mm/h)</text>
</g>
<g stroke="#cc0000" stroke-width="1" fill="none" shape-rendering="crispEdges">
<path d="M708 714L717 723M717 714L708 723"/>
<path d="M726 734L735 743M735 734L726 743"/>
<path d="M680 740L689 749M689 740L680 749"/>
<path d="M691 747L700 756M700 747L691 756"/>
<path d="M692 750L701 759M701 750L692 759"/>
<path d="M691 756L700 765M700 756L691 765"/>
<path d="M708 758L717 767M717 758L708 767"/>
<path d="M669 766L678 775M678 766L669 775"/>
<path d="M704 779L713 788M713 779L704 788"/>
<path d="M672 788L681 797M681 788L672 797"/>
<path d="M678 785L687 794M687 785L678 794"/>
<path d="M630 794L639 803M639 794L630 803"/>
<path d="M662 802L671 811M671 802L662 811"/>
<path d="M674 801L683 810M683 801L674 810"/>
<path d="M664 806L673 815M673 806L664 815"/>
<path d="M690 806L699 815M699 806L690 815"/>
<path d="M630 812L639 821M639 812L630 821"/>
<path d="M662 818L671 827M671 818L662 827"/>
<path d="M680 818L689 827M689 818L680 827"/>
<path d="M599 831L608 840M608 831L599 840"/>
<path d="M614 826L623 835M623 826L614 835"/>
<path d="M630 826L639 835M639 826L630 835"/>
<path d="M640 831L649 840M649 831L640 840"/>
<path d="M651 831L660 840M660 831L651 840"/>
<path d="M656 826L665 835M665 826L656 835"/>
<path d="M655 825L664 834M664 825L655 834"/>
<path d="M664 831L673 840M673 831L664 840"/>
<path d="M699 826L708 835M708 826L699 835"/>
<path d="M685 836L694 845M694 836L685 845"/>
<path d="M686 841L695 850M695 841L686 850"/>
<path d="M700 842L709 851M709 842L700 851"/>
<path d="M590 848L599 857M599 848L590 857"/>
<path d="M630 848L639 857M639 848L630 857"/>
<path d="M664 848L673 857M673 848L664 857"/>
<path d="M669 855L678 864M678 855L669 864"/>
<path d="M686 847L695 856M695 847L686 856"/>
<path d="M669 865L678 874M678 865L669 874"/>
<path d="M672 866L681 875M681 866L672 875"/>
<path d="M614 866L623 875M623 866L614 875"/>
<path d="M531 878L540 887M540 878L531 887"/>
<path d="M711 878L720 887M720 878L711 887"/>
<path d="M653 895L662 904M662 895L653 904"/>
<path d="M657 895L666 904M666 895L657 904"/>
<path d="M701 895L710 904M710 895L701 904"/>
<path d="M590 925L599 934M599 925L590 934"/>
<path d="M607 925L616 934M616 925L607 934"/>
<path d="M620 925L629 934M629 925L620 934"/>
<path d="M647 925L656 934M656 925L647 934"/>
<path d="M759 712L768 721M768 712L759 721"/>
</g>
<path d="M549 544.5l12 12M561 544.5l-12 12" stroke="#0040ff" stroke-width="2"/>
<path d="M549 564.5l12 12M561 564.5l-12 12" stroke="#c00000" stroke-width="2"/>
<g font-size="12.5" fill="#000"><text x="575.5" y="552" textLength="48" lengthAdjust="spacingAndGlyphs">: Ocean</text><text x="575.5" y="572" textLength="41" lengthAdjust="spacingAndGlyphs">: Land</text></g>
</svg></body></html>
